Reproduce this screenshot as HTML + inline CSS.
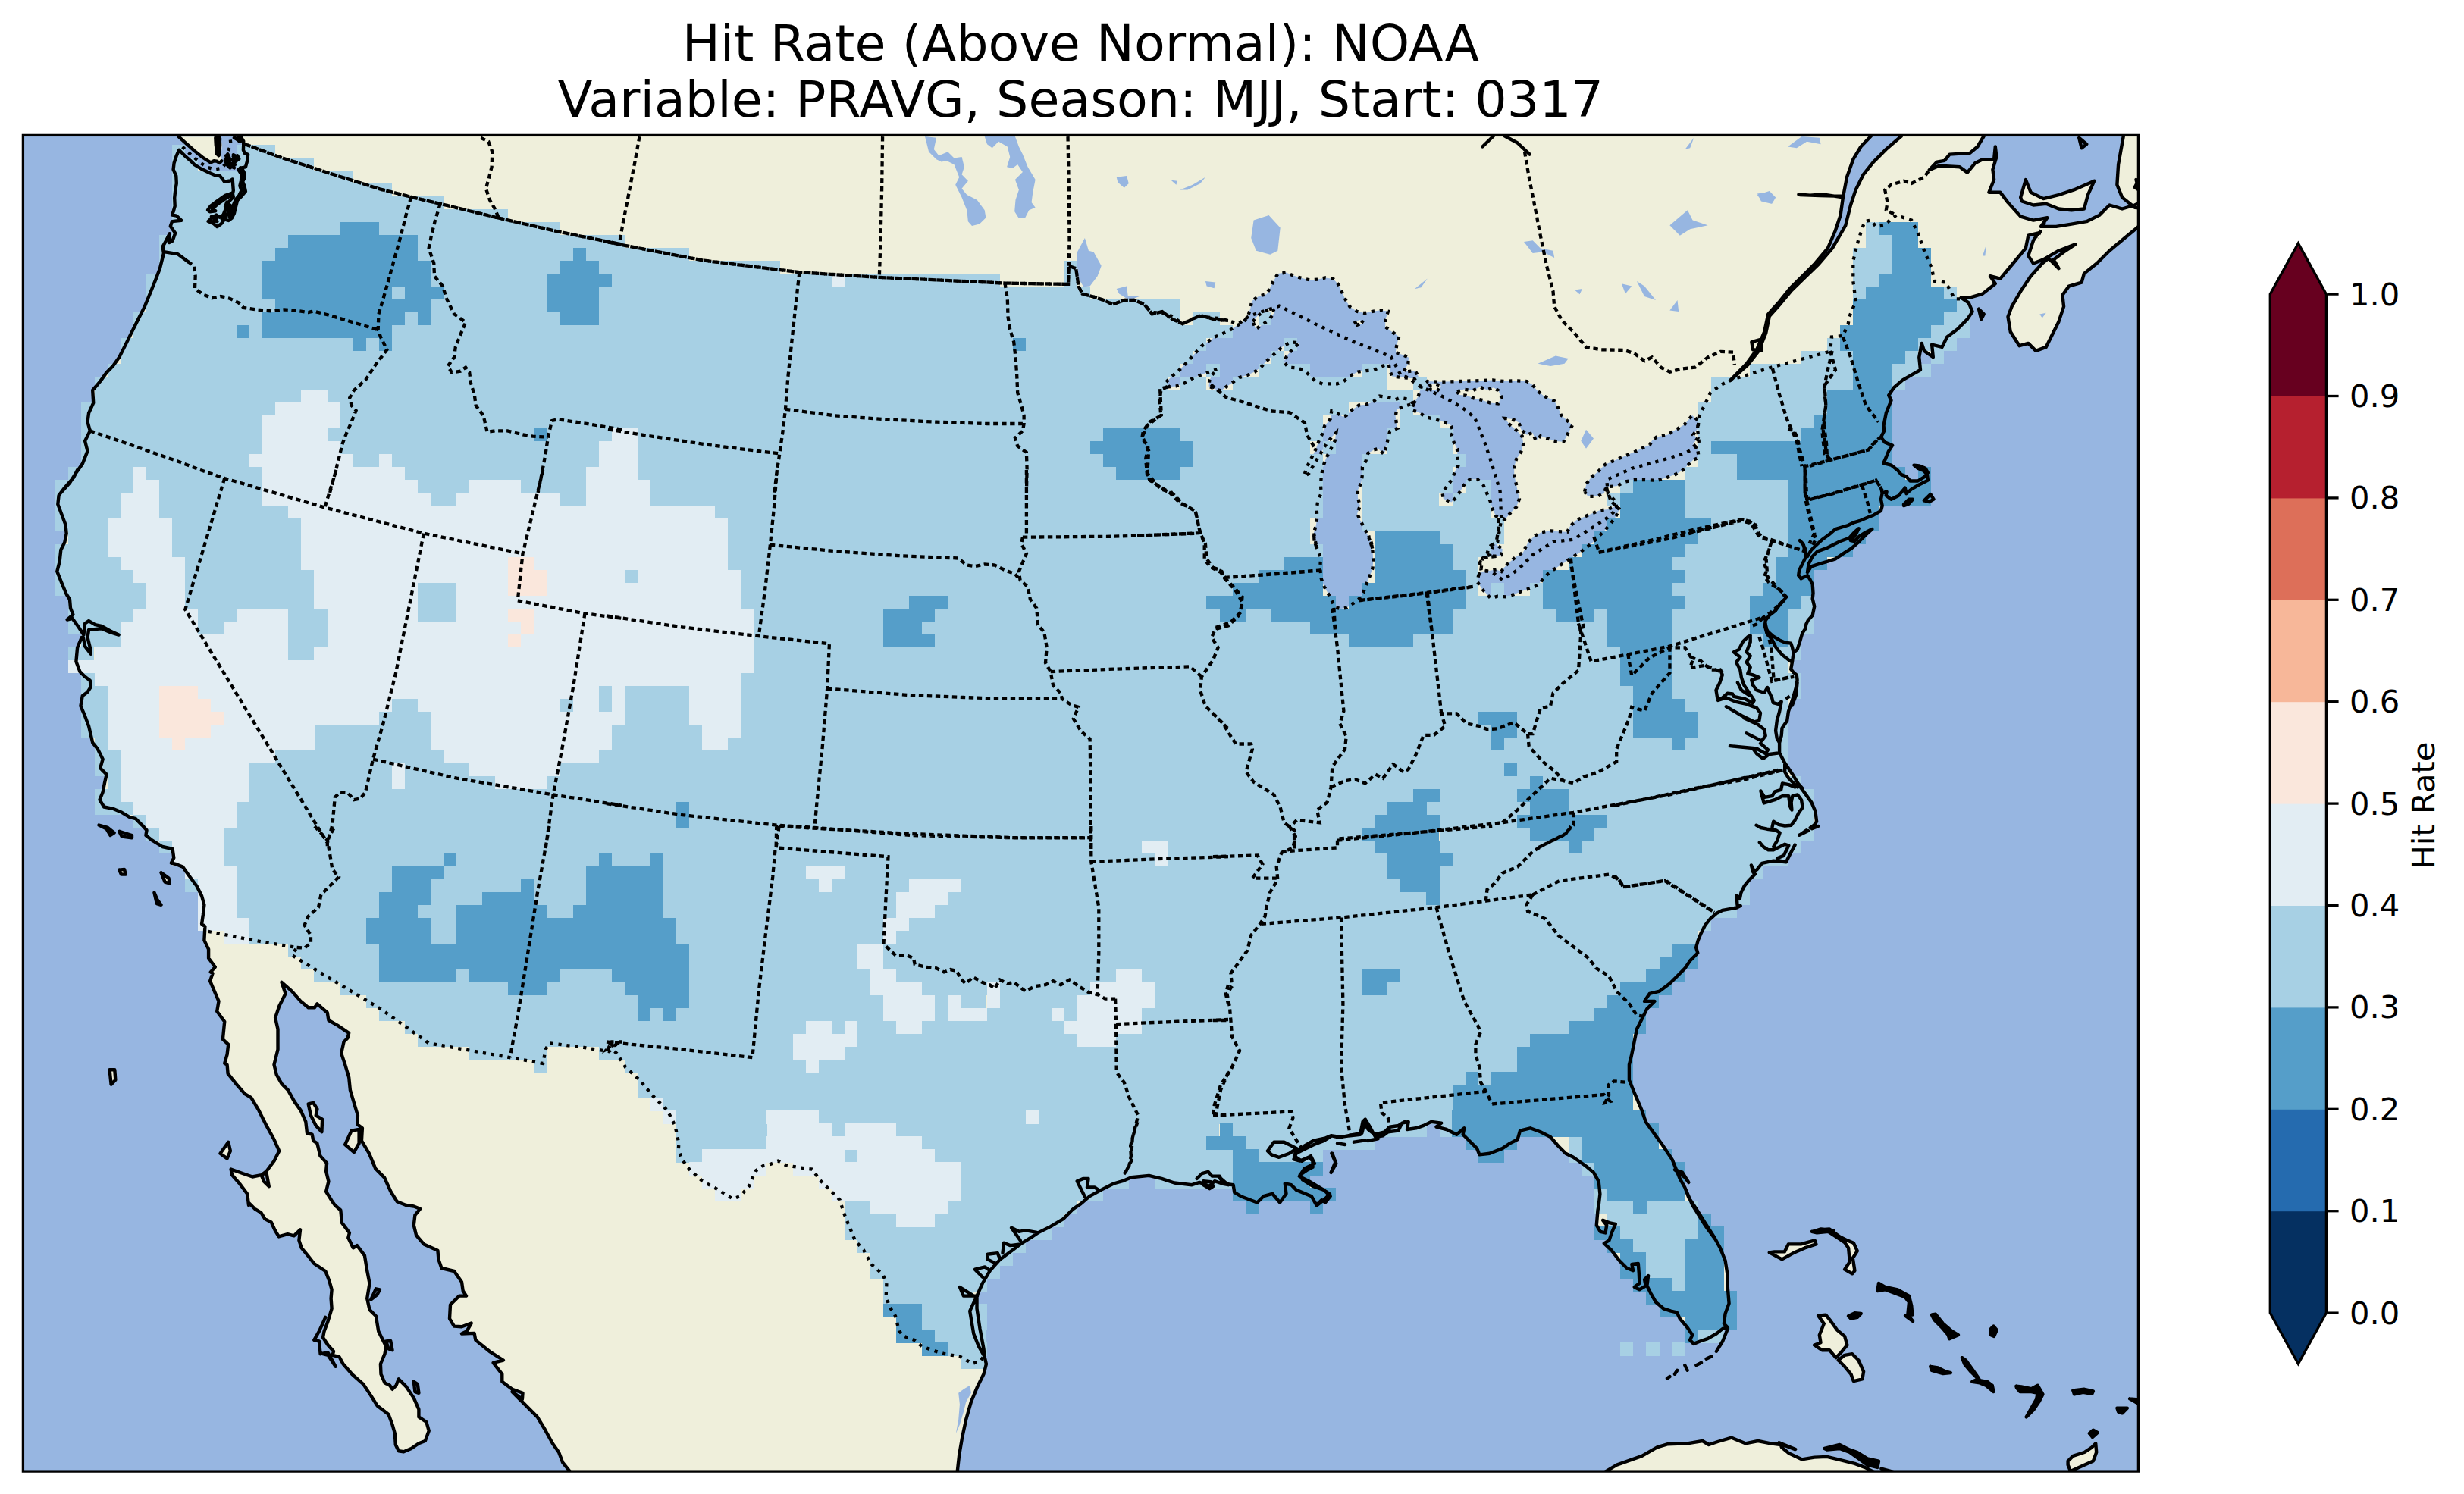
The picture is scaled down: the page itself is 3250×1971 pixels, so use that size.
<!DOCTYPE html><html><head><meta charset="utf-8"><title>Hit Rate (Above Normal): NOAA</title><style>html,body{margin:0;padding:0;background:#fff}svg{display:block}</style></head><body><svg xmlns="http://www.w3.org/2000/svg" width="3250" height="1971" viewBox="0 0 3250 1971">
<defs><clipPath id="fr"><rect x="30.4" y="178.4" width="2790.0" height="1762.6999999999998"/></clipPath></defs>
<rect width="3250" height="1971" fill="#fff"/>
<g clip-path="url(#fr)">
<rect x="30.4" y="178.4" width="2790.0" height="1762.6999999999998" fill="#97b6e1"/>
<path fill="#efefdb" d="M235.5 180.2 L245.7 189.3 L256.4 198.9 L267.1 207.5 L277.8 214.4 L282.1 212.3 L285.9 212.6 L289.6 215.0 L292.3 212.3 L291.8 202.1 L292.8 191.4 L290.7 180.2ZM2384.0 755.0 L2389.0 747.4 L2399.0 744.1 L2410.7 740.7 L2420.8 737.4 L2430.8 730.7 L2442.5 723.2 L2452.6 714.0 L2460.9 705.6 L2469.3 698.1 L2460.9 702.2 L2452.6 707.3 L2445.9 714.0 L2440.9 713.1 L2447.6 705.6 L2451.7 697.2 L2445.9 702.2 L2439.2 709.8 L2427.5 714.0 L2417.4 719.0 L2409.1 723.2 L2397.3 727.3 L2390.7 734.0 L2385.6 744.1ZM2511.1 665.4 L2517.8 658.7 L2522.9 658.7 L2517.8 664.6 L2511.1 667.1ZM2537.9 660.4 L2546.3 652.0 L2550.5 658.7 L2544.6 662.1ZM406.7 1456.5 L413.3 1454.8 L418.4 1463.2 L416.7 1471.6 L425.1 1476.6 L424.4 1493.3 L416.7 1484.9 L410.0 1471.6ZM455.2 1510.0 L463.6 1491.6 L473.6 1490.0 L473.6 1508.4 L466.9 1520.1ZM290.5 1521.8 L301.2 1506.7 L303.9 1518.4 L299.6 1528.4ZM144.6 1411.3 L151.3 1411.3 L152.3 1424.7 L146.6 1430.7ZM157.3 1147.6 L164.0 1146.9 L165.7 1153.6 L160.0 1153.6ZM212.5 1151.2 L222.6 1158.6 L223.6 1165.3 L217.6 1163.6ZM203.5 1177.7 L207.5 1187.1 L212.5 1193.8 L206.8 1192.1ZM344.7 1550.2 L351.4 1546.9 L354.8 1565.3 L348.1 1558.6ZM2333.8 1652.4 L2350.4 1661.4 L2365.4 1653.1 L2380.4 1646.4 L2395.4 1641.4 L2393.7 1636.4 L2375.4 1641.4 L2358.8 1641.4 L2353.8 1651.4 L2340.5 1651.4ZM2433.1 1636.4 L2444.8 1639.7 L2449.8 1650.4 L2443.8 1659.7 L2446.4 1676.3 L2443.1 1680.3 L2433.1 1674.7 L2439.8 1664.7 L2438.1 1646.4ZM2398.2 1735.6 L2408.2 1734.6 L2414.8 1742.9 L2423.1 1754.6 L2433.1 1762.9 L2436.4 1774.5 L2428.1 1784.5 L2421.5 1791.2 L2413.1 1781.2 L2403.2 1781.2 L2393.2 1774.5 L2401.5 1771.2 L2399.8 1761.2 L2405.8 1746.2ZM2424.8 1794.5 L2433.1 1787.8 L2443.1 1786.2 L2451.4 1794.5 L2458.1 1809.5 L2456.4 1819.4 L2444.8 1822.1 L2441.4 1812.8 L2433.1 1802.8ZM2727.6 1927.6 L2734.3 1920.9 L2749.3 1916.0 L2759.3 1909.3 L2764.2 1904.3 L2765.2 1916.0 L2760.9 1927.6 L2745.9 1934.3 L2731.0 1940.9 L2727.6 1932.6ZM2115.8 1942.6 L2132.5 1932.6 L2165.7 1920.9 L2185.7 1909.3 L2199.0 1905.3 L2225.6 1904.3 L2245.6 1901.0 L2253.9 1906.0 L2265.6 1902.0 L2283.9 1896.7 L2302.2 1904.3 L2318.8 1901.0 L2335.5 1904.3 L2348.8 1906.0 L2349.9 1909.3 L2359.9 1917.6 L2376.5 1925.3 L2393.2 1922.6 L2409.8 1921.9 L2426.5 1925.9 L2446.4 1930.9 L2459.7 1935.9 L2473.1 1942.6ZM317.5 180.2 L321.2 186.1 L321.2 191.4 L320.9 197.8 L322.8 202.1 L327.1 203.7 L326.0 212.8 L323.9 220.3 L316.4 222.5 L307.8 230.0 L306.7 236.4 L303.5 238.5 L296.0 239.6 L292.8 235.3 L290.1 232.1 L284.3 231.6 L275.7 227.8 L265.0 222.5 L256.4 217.1 L251.1 211.8 L243.6 205.3 L236.1 197.8 L236.1 197.8 L232.8 205.3 L229.6 215.0 L228.6 223.6 L232.3 232.1 L232.8 241.8 L231.2 251.4 L230.2 261.0 L230.7 271.8 L228.6 279.3 L227.0 283.5 L232.8 284.6 L239.3 290.8 L227.0 292.1 L224.8 298.5 L231.2 307.6 L227.5 317.8 L223.2 320.0 L223.7 308.2 L218.9 317.8 L214.6 325.3 L215.9 334.1 L210.9 354.2 L205.8 367.6 L199.1 384.3 L190.8 404.4 L182.4 421.1 L174.0 437.8 L165.7 454.6 L157.3 471.3 L148.9 483.0 L140.6 491.4 L132.2 503.1 L122.2 514.8 L123.2 531.6 L117.1 544.9 L115.5 556.7 L118.8 568.4 L112.1 581.8 L115.5 595.1 L108.8 611.9 L100.4 623.6 L92.0 637.0 L80.3 650.0 L102.1 620.0 L97.1 630.0 L85.3 643.4 L77.6 653.5 L76.3 665.2 L82.0 680.2 L86.4 692.0 L87.7 703.7 L85.3 715.4 L80.3 725.4 L78.7 740.5 L75.3 753.9 L82.0 770.6 L87.7 784.0 L92.0 790.7 L93.0 802.4 L96.4 810.8 L88.7 817.5 L95.4 815.8 L103.8 827.5 L110.4 837.6 L107.8 840.9 L102.1 854.3 L100.4 872.7 L105.4 886.1 L112.1 892.8 L118.8 897.8 L119.8 906.2 L115.5 912.9 L108.8 917.9 L106.4 931.3 L112.1 944.7 L117.1 958.0 L122.2 979.8 L128.9 988.2 L135.6 1001.6 L132.2 1013.3 L140.6 1021.6 L137.9 1033.3 L135.6 1045.1 L131.5 1055.1 L137.2 1064.5 L148.9 1066.8 L160.7 1071.8 L170.7 1077.9 L179.1 1080.2 L187.4 1088.6 L193.5 1095.3 L192.4 1102.0 L200.8 1108.7 L214.2 1117.0 L227.6 1120.0 L229.3 1131.8 L225.9 1138.5 L232.6 1140.2 L241.0 1143.6 L249.3 1155.3 L259.4 1168.7 L266.1 1182.0 L269.4 1193.8 L267.8 1207.1 L266.1 1218.9 L270.4 1222.2 L269.4 1240.6 L275.1 1252.3 L275.1 1264.0 L283.8 1275.8 L277.8 1282.4 L280.5 1284.1 L277.1 1294.2 L282.8 1307.6 L288.5 1320.9 L286.2 1334.3 L296.2 1347.7 L293.9 1371.1 L301.2 1377.8 L299.6 1391.2 L296.2 1402.9 L299.6 1404.6 L300.6 1416.3 L311.3 1429.7 L323.0 1443.1 L331.3 1448.1 L341.4 1464.9 L351.4 1484.9 L361.5 1503.3 L368.2 1518.4 L361.5 1531.8 L351.4 1545.2 L344.7 1550.2 L333.0 1552.5 L321.3 1548.5 L304.6 1542.5 L306.2 1550.2 L316.3 1561.9 L326.3 1575.3 L328.0 1590.0 L327.8 1586.5 L336.1 1594.8 L344.4 1599.8 L349.4 1608.1 L357.8 1612.5 L362.7 1623.1 L367.7 1631.4 L379.4 1628.1 L387.7 1630.4 L396.0 1622.4 L394.4 1636.4 L397.7 1646.4 L406.0 1656.4 L414.3 1667.0 L429.3 1677.0 L434.3 1689.7 L437.6 1701.3 L436.6 1713.0 L437.6 1726.3 L432.6 1742.9 L427.6 1756.2 L426.0 1764.5 L432.6 1774.5 L440.0 1782.8 L438.6 1787.8 L447.6 1790.2 L452.6 1799.5 L464.2 1812.8 L479.2 1826.1 L489.2 1841.1 L497.5 1854.4 L512.5 1866.0 L517.5 1879.4 L520.8 1891.0 L521.8 1906.0 L525.8 1914.3 L532.5 1915.3 L542.5 1911.0 L552.4 1904.3 L560.8 1901.0 L565.7 1887.7 L562.4 1876.0 L552.4 1869.4 L552.4 1859.4 L545.8 1844.4 L535.8 1829.4 L525.8 1819.4 L522.5 1827.8 L517.5 1832.8 L514.2 1827.8 L507.5 1824.4 L502.5 1812.8 L501.9 1799.5 L507.5 1786.2 L509.2 1776.2 L499.2 1756.2 L495.9 1736.2 L487.5 1727.9 L484.2 1713.0 L487.5 1693.0 L484.2 1676.3 L480.9 1656.4 L470.9 1643.1 L465.9 1646.4 L459.3 1633.1 L460.9 1626.4 L450.9 1613.1 L449.3 1596.5 L441.8 1590.0 L438.4 1585.3 L430.1 1572.0 L433.4 1558.6 L430.1 1545.2 L431.1 1534.5 L422.4 1525.1 L418.4 1508.4 L413.3 1505.0 L411.7 1496.7 L405.0 1495.0 L403.3 1479.9 L396.6 1464.9 L388.2 1453.1 L379.9 1438.1 L371.5 1429.7 L364.8 1418.0 L361.5 1404.6 L366.5 1384.5 L366.5 1357.8 L363.1 1342.7 L368.2 1327.6 L376.5 1310.9 L371.5 1295.8 L371.5 1295.8 L384.9 1307.6 L396.6 1320.9 L406.7 1329.3 L415.0 1329.3 L418.4 1324.3 L431.8 1336.0 L433.4 1346.0 L445.1 1352.7 L460.2 1362.8 L458.5 1369.5 L453.5 1374.5 L450.2 1389.6 L455.2 1404.6 L460.2 1421.3 L461.9 1438.1 L466.9 1454.8 L471.9 1471.6 L471.2 1483.3 L477.9 1488.3 L476.9 1505.0 L487.0 1521.8 L495.3 1541.8 L507.1 1553.6 L515.4 1572.0 L523.8 1585.3 L535.5 1590.0 L545.8 1591.5 L554.1 1594.8 L547.4 1603.1 L545.8 1616.4 L549.1 1629.8 L559.1 1641.4 L577.4 1649.7 L578.4 1661.4 L582.4 1673.0 L599.0 1677.0 L609.0 1691.3 L610.7 1703.0 L615.0 1709.6 L605.7 1709.6 L594.0 1721.3 L593.0 1739.6 L599.0 1749.6 L609.0 1750.2 L621.7 1745.6 L615.7 1756.2 L609.0 1759.5 L625.6 1758.9 L627.3 1767.9 L645.6 1782.8 L663.9 1794.5 L650.6 1797.8 L662.3 1812.8 L662.3 1822.8 L675.6 1832.8 L689.5 1837.8 L688.9 1846.1 L675.6 1836.1 L708.8 1869.4 L718.8 1886.0 L728.8 1904.3 L737.1 1916.0 L742.1 1929.3 L752.8 1942.6 L1262.6 1942.6 L1265.2 1919.3 L1269.2 1896.0 L1274.2 1872.7 L1280.9 1849.4 L1289.2 1829.4 L1297.5 1812.8 L1300.9 1799.5 L1298.5 1789.5 L1297.5 1779.5 L1292.5 1752.9 L1288.5 1726.3 L1288.5 1709.6 L1295.9 1693.0 L1305.8 1676.3 L1319.2 1661.4 L1332.5 1651.4 L1345.8 1641.4 L1359.1 1633.1 L1369.1 1626.4 L1385.7 1618.1 L1402.4 1608.1 L1415.7 1594.8 L1425.6 1588.2 L1437.3 1578.2 L1452.3 1569.9 L1468.9 1561.5 L1480.6 1558.2 L1492.2 1553.2 L1515.5 1550.9 L1532.1 1554.9 L1548.8 1560.5 L1572.1 1563.2 L1582.1 1559.9 L1595.4 1564.9 L1602.0 1558.2 L1612.0 1561.5 L1620.0 1563.2 L1606.7 1551.6 L1615.0 1561.5 L1626.6 1563.2 L1628.3 1573.2 L1636.6 1578.2 L1658.2 1586.5 L1666.6 1578.2 L1678.2 1574.8 L1688.2 1586.5 L1696.5 1574.8 L1694.8 1561.5 L1703.2 1563.2 L1709.8 1569.9 L1729.8 1578.2 L1736.4 1589.8 L1743.1 1583.2 L1748.1 1586.5 L1754.7 1578.2 L1746.4 1569.9 L1731.5 1564.9 L1718.1 1556.5 L1714.8 1549.9 L1724.8 1543.2 L1731.5 1539.9 L1731.5 1531.6 L1726.5 1526.6 L1714.8 1531.6 L1706.5 1529.3 L1709.8 1521.6 L1717.1 1515.1 L1720.5 1511.7 L1732.2 1505.0 L1747.3 1501.7 L1755.6 1498.3 L1767.3 1500.0 L1780.7 1498.3 L1794.1 1496.7 L1797.5 1479.9 L1800.8 1476.6 L1805.8 1484.9 L1814.2 1500.0 L1824.2 1498.3 L1830.9 1493.3 L1844.3 1491.6 L1849.3 1481.6 L1857.7 1479.9 L1856.0 1490.0 L1867.8 1488.3 L1877.8 1484.9 L1887.8 1479.9 L1901.2 1481.6 L1894.5 1486.6 L1907.9 1490.0 L1921.3 1496.7 L1931.3 1488.3 L1929.7 1496.7 L1938.0 1505.0 L1948.1 1515.1 L1951.4 1523.4 L1964.8 1521.8 L1981.6 1515.1 L1991.6 1508.4 L2001.6 1503.3 L2005.0 1491.6 L2018.4 1488.3 L2031.8 1493.3 L2045.1 1500.0 L2055.2 1511.7 L2065.2 1521.8 L2075.3 1526.8 L2092.0 1538.5 L2102.0 1546.9 L2108.7 1558.6 L2110.4 1575.3 L2108.7 1590.0 L2107.5 1596.5 L2105.8 1616.4 L2110.8 1624.8 L2117.5 1626.4 L2119.2 1616.4 L2114.2 1609.8 L2122.5 1613.1 L2130.8 1614.8 L2125.8 1626.4 L2122.5 1636.4 L2115.8 1640.4 L2125.8 1649.7 L2135.8 1663.0 L2145.8 1673.0 L2154.1 1676.3 L2152.4 1668.0 L2160.8 1667.0 L2161.8 1679.7 L2162.4 1693.0 L2155.8 1698.0 L2162.4 1701.3 L2170.7 1696.3 L2169.1 1688.0 L2174.1 1683.0 L2172.4 1696.3 L2177.4 1706.3 L2184.1 1717.9 L2194.0 1726.3 L2204.0 1729.6 L2211.7 1731.3 L2215.7 1739.6 L2225.6 1751.2 L2232.3 1761.2 L2229.0 1767.9 L2234.0 1772.9 L2242.3 1769.5 L2252.3 1766.2 L2263.9 1759.5 L2272.2 1752.9 L2278.9 1751.2 L2273.9 1746.2 L2275.6 1732.9 L2280.6 1719.6 L2278.9 1699.6 L2278.2 1679.7 L2275.6 1663.0 L2268.9 1646.4 L2260.6 1631.4 L2248.9 1613.1 L2237.3 1594.8 L2227.3 1579.8 L2222.3 1566.5 L2215.7 1554.9 L2205.7 1529.9 L2192.4 1510.0 L2179.1 1491.6 L2170.7 1480.0 L2165.6 1464.9 L2155.6 1441.4 L2148.9 1424.7 L2148.9 1404.6 L2152.2 1391.2 L2155.6 1374.5 L2158.9 1357.8 L2165.6 1344.4 L2172.3 1331.0 L2182.4 1320.9 L2169.0 1320.9 L2175.7 1310.9 L2189.1 1307.6 L2202.4 1297.5 L2212.5 1287.5 L2222.5 1277.4 L2229.2 1267.4 L2239.3 1257.3 L2237.1 1250.0 L2239.6 1241.0 L2243.8 1230.9 L2248.8 1220.9 L2255.5 1212.5 L2263.9 1205.0 L2272.2 1200.8 L2290.7 1197.5 L2295.7 1195.0 L2291.5 1194.1 L2290.7 1181.6 L2294.8 1185.8 L2296.5 1177.4 L2300.7 1169.0 L2307.4 1160.7 L2314.9 1153.1 L2312.4 1150.6 L2309.9 1141.4 L2314.1 1149.8 L2317.4 1147.3 L2324.1 1138.9 L2339.2 1135.6 L2355.9 1137.2 L2374.3 1101.2 L2382.7 1095.4 L2387.7 1092.0 L2392.7 1088.7 L2396.1 1083.7 L2394.4 1070.3 L2389.4 1058.6 L2381.0 1046.9 L2371.0 1033.5 L2377.3 1040.0 L2372.2 1034.3 L2363.9 1020.9 L2353.8 1005.9 L2347.1 993.3 L2347.1 979.9 L2349.7 970.7 L2350.5 960.7 L2353.8 955.7 L2357.2 950.7 L2358.9 938.9 L2362.2 928.9 L2365.6 918.9 L2368.9 907.1 L2370.6 897.1 L2369.7 890.4 L2365.6 887.1 L2362.2 882.9 L2363.9 873.7 L2365.6 861.1 L2370.6 856.9 L2373.9 846.9 L2377.3 835.2 L2381.4 829.3 L2382.3 823.5 L2384.8 818.4 L2390.7 811.8 L2393.2 800.0 L2390.7 790.0 L2391.5 782.6 L2390.7 770.9 L2387.3 764.2 L2384.0 759.1 L2375.6 763.3 L2372.2 759.1 L2373.1 752.4 L2377.3 744.1 L2382.3 734.0 L2381.4 724.8 L2377.3 716.5 L2373.9 713.1 L2378.9 719.0 L2380.6 727.3 L2384.0 734.0 L2389.0 725.7 L2394.8 719.8 L2404.0 711.4 L2414.1 703.9 L2420.8 698.1 L2437.5 693.0 L2444.2 689.7 L2452.6 687.2 L2464.3 682.2 L2471.0 679.7 L2481.0 673.8 L2482.7 667.1 L2481.0 658.7 L2482.7 650.4 L2488.6 648.7 L2487.7 653.7 L2494.4 658.7 L2504.4 653.7 L2512.8 643.7 L2514.5 651.2 L2521.2 645.3 L2531.2 639.5 L2542.9 633.6 L2542.1 626.9 L2537.9 621.1 L2529.6 617.7 L2524.5 613.6 L2531.2 614.4 L2539.6 617.7 L2542.9 623.6 L2537.9 629.4 L2529.6 634.5 L2519.5 634.5 L2514.5 628.6 L2507.8 626.1 L2502.8 620.2 L2494.4 613.6 L2484.4 611.0 L2487.7 603.5 L2491.1 595.1 L2496.1 587.6 L2486.0 583.4 L2481.0 576.7 L2485.2 568.4 L2484.4 560.0 L2484.5 561.7 L2487.8 544.9 L2494.5 528.2 L2491.2 521.5 L2497.9 511.5 L2509.6 501.4 L2521.3 494.7 L2533.0 488.0 L2531.3 471.3 L2534.7 452.9 L2538.0 462.9 L2549.8 471.3 L2548.1 454.6 L2561.5 457.9 L2568.2 444.5 L2581.6 434.5 L2594.9 421.1 L2601.6 411.1 L2596.6 399.3 L2586.6 392.7 L2598.3 392.7 L2615.0 387.6 L2631.8 374.2 L2625.1 364.2 L2638.4 367.6 L2655.2 347.5 L2671.9 327.4 L2675.3 310.7 L2688.7 307.3 L2682.0 317.3 L2675.3 337.4 L2682.0 347.5 L2695.3 342.4 L2715.4 330.7 L2737.2 322.4 L2722.1 332.4 L2708.7 342.4 L2715.4 354.2 L2702.0 340.8 L2693.7 347.5 L2678.6 364.2 L2665.2 384.3 L2653.5 404.4 L2648.5 417.8 L2651.8 437.8 L2663.6 456.2 L2675.3 452.9 L2685.3 462.9 L2698.7 457.9 L2705.4 444.5 L2715.4 424.4 L2722.1 404.4 L2720.4 389.3 L2728.8 377.6 L2745.6 372.6 L2748.9 360.9 L2765.6 347.5 L2782.4 330.7 L2802.4 314.0 L2822.5 297.3 L2825.4 173.4Z"/>
<path fill="#97b6e1" d="M1220.0 180.1 L1235.1 181.8 L1231.8 196.9 L1238.4 205.2 L1250.2 200.2 L1258.5 208.6 L1268.6 206.9 L1271.9 220.3 L1268.6 230.3 L1276.9 238.7 L1268.6 248.7 L1275.3 257.1 L1288.7 263.8 L1298.7 277.2 L1300.4 287.2 L1292.0 295.6 L1282.0 297.9 L1276.9 292.2 L1275.3 277.2 L1268.6 260.4 L1260.2 243.7 L1265.2 233.7 L1258.5 216.9 L1248.5 211.9 L1241.8 213.6 L1235.1 210.2 L1225.1 200.2 L1221.7 186.8ZM1298.7 180.1 L1338.9 180.1 L1343.9 193.5 L1348.9 203.6 L1355.6 220.3 L1365.6 237.0 L1362.3 253.8 L1360.6 267.1 L1365.6 273.8 L1357.3 277.2 L1352.2 287.2 L1343.9 287.9 L1338.2 278.9 L1339.5 263.8 L1343.9 250.4 L1338.9 237.0 L1348.9 227.0 L1342.2 216.9 L1335.5 222.0 L1328.1 220.3 L1332.2 206.9 L1328.8 193.5 L1317.1 186.8 L1308.7 195.2 L1302.0 190.2ZM1420.9 332.4 L1430.9 314.0 L1435.9 330.7 L1442.6 332.4 L1452.7 350.8 L1447.6 364.2 L1437.6 377.6 L1429.2 378.3 L1422.5 367.6 L1420.9 350.8ZM1472.7 233.7 L1486.1 232.0 L1488.8 242.0 L1482.8 247.7 L1474.4 240.4ZM1556.4 250.4 L1573.1 243.7 L1589.9 233.7 L1583.2 242.0 L1566.4 250.4ZM1544.7 237.7 L1553.1 238.7 L1551.4 243.7ZM1589.9 370.9 L1603.3 372.6 L1601.6 380.3 L1591.6 377.6ZM1472.7 380.9 L1486.1 377.6 L1487.8 391.0 L1502.9 391.0 L1489.5 396.0 L1476.1 387.6ZM1538.1 504.1 L1545.6 496.6 L1554.6 489.1 L1562.2 481.6 L1569.7 473.3 L1577.2 465.0 L1584.8 456.7 L1593.0 450.7 L1602.1 444.7 L1612.6 440.1 L1622.4 435.6 L1631.4 429.6 L1639.0 425.8 L1645.7 418.3 L1649.5 406.3 L1651.0 397.2 L1660.8 390.4 L1670.6 388.2 L1675.1 379.9 L1679.6 370.9 L1685.6 361.1 L1696.2 359.6 L1707.5 364.1 L1717.3 367.1 L1727.8 369.4 L1738.4 368.6 L1748.1 366.4 L1758.7 367.9 L1765.5 375.4 L1770.0 385.2 L1774.5 395.0 L1780.5 404.8 L1789.6 410.8 L1800.1 413.0 L1810.6 410.8 L1821.2 409.3 L1831.0 410.8 L1827.2 422.1 L1827.2 431.1 L1836.2 437.9 L1845.3 443.9 L1842.3 455.2 L1840.8 465.0 L1849.8 468.0 L1858.1 471.8 L1857.3 480.0 L1851.3 490.6 L1866.4 489.1 L1870.9 496.6 L1866.4 499.6 L1836.2 496.6 L1833.2 489.1 L1831.7 480.0 L1822.7 483.1 L1812.1 488.3 L1801.6 489.1 L1791.1 490.6 L1780.5 495.9 L1773.0 502.6 L1764.0 506.4 L1753.4 506.4 L1744.4 506.4 L1735.3 503.4 L1727.8 495.9 L1720.3 488.3 L1709.7 485.3 L1699.2 484.6 L1693.2 477.0 L1698.4 468.0 L1706.7 459.0 L1714.3 452.2 L1703.0 451.4 L1693.2 456.0 L1684.9 463.5 L1678.1 469.5 L1670.6 476.3 L1663.1 484.6 L1654.8 490.6 L1645.0 495.1 L1634.4 498.1 L1625.4 504.9 L1616.4 510.9 L1610.4 515.4 L1602.1 513.2 L1594.5 509.4 L1595.3 501.9 L1598.3 495.1 L1605.8 486.8 L1590.8 492.1 L1581.0 495.9 L1572.0 499.6 L1562.2 505.6 L1551.6 509.4 L1541.8 510.2ZM1864.7 532.4 L1855.6 526.4 L1846.6 524.8 L1840.6 527.1 L1830.0 524.1 L1819.5 522.6 L1812.0 529.4 L1801.4 533.9 L1792.4 534.6 L1783.4 540.7 L1775.8 548.2 L1771.3 549.7 L1763.8 545.2 L1756.3 542.2 L1754.8 552.7 L1747.2 561.7 L1744.2 572.3 L1739.7 581.3 L1735.2 593.4 L1729.2 605.4 L1723.1 617.5 L1720.1 628.0 L1726.1 625.0 L1733.7 611.4 L1741.2 599.4 L1750.2 584.3 L1757.8 575.3 L1762.3 570.8 L1760.8 581.3 L1754.8 593.4 L1748.7 605.4 L1745.0 616.0 L1742.7 629.5 L1742.0 640.0 L1742.7 650.6 L1738.2 661.1 L1736.7 671.7 L1737.4 682.2 L1735.9 692.8 L1732.9 703.3 L1733.7 713.8 L1736.7 722.9 L1732.9 703.0 L1733.7 715.1 L1738.2 725.6 L1742.0 736.1 L1741.2 749.7 L1742.7 763.2 L1746.5 773.8 L1751.7 782.8 L1756.3 791.9 L1760.8 800.9 L1768.3 803.2 L1776.6 801.6 L1786.4 794.9 L1793.9 788.8 L1798.4 781.3 L1802.2 770.8 L1806.7 760.2 L1810.5 749.7 L1811.2 739.2 L1810.5 727.1 L1809.0 716.6 L1805.2 706.8 L1810.5 725.0 L1809.0 717.6 L1804.4 707.1 L1799.9 697.3 L1794.7 687.5 L1790.1 677.7 L1793.9 667.2 L1790.9 656.6 L1790.9 646.8 L1795.4 637.0 L1796.9 626.5 L1796.9 616.0 L1801.4 608.4 L1804.4 597.9 L1812.0 593.4 L1818.0 591.9 L1825.5 599.4 L1828.5 588.8 L1833.1 569.3 L1843.6 564.8 L1842.1 560.2 L1840.6 549.7 L1842.1 540.7 L1851.1 536.1ZM1864.7 532.4 L1870.7 522.6 L1875.2 509.0 L1882.8 503.0 L1900.8 503.8 L1924.9 503.0 L1946.0 502.3 L1968.6 501.5 L1983.7 503.0 L1998.7 502.3 L2013.8 503.0 L2021.3 507.5 L2027.3 515.1 L2036.4 522.6 L2049.9 528.6 L2055.9 539.2 L2059.0 547.6 L2074.0 561.0 L2062.3 582.7 L2051.4 582.1 L2040.9 578.3 L2031.8 575.3 L2025.8 581.3 L2021.3 570.8 L2013.8 573.8 L2006.2 566.3 L2003.2 557.2 L1994.2 552.7 L1985.2 552.0 L1991.2 560.2 L2000.2 567.8 L2007.7 575.3 L2009.3 585.8 L2006.2 596.4 L2000.2 605.4 L1997.2 616.0 L1997.2 626.5 L1999.5 637.0 L2001.7 647.6 L2004.0 658.1 L2000.2 668.7 L1992.7 676.2 L1985.2 685.2 L1979.1 683.0 L1973.1 680.7 L1968.6 671.7 L1965.6 661.1 L1961.1 650.6 L1956.5 640.0 L1949.0 632.5 L1938.5 632.5 L1930.9 640.0 L1926.4 647.6 L1920.4 656.6 L1914.4 662.6 L1903.8 658.1 L1902.3 649.1 L1909.9 640.0 L1915.9 631.0 L1918.9 622.0 L1923.4 614.4 L1922.7 603.9 L1921.9 591.9 L1917.4 582.8 L1914.4 573.8 L1917.4 569.3 L1912.9 560.2 L1903.8 556.5 L1891.8 552.7 L1881.2 550.4 L1872.2 544.4 L1861.7 540.7ZM1966.9 718.8 L1972.0 717.1 L1982.0 724.7 L1980.3 732.2 L1973.6 733.9 L1966.9 733.0 L1961.9 728.9 L1963.6 723.8ZM1950.2 759.0 L1953.6 754.0 L1963.6 753.1 L1973.6 751.4 L1980.3 754.0 L1983.7 748.9 L1990.4 742.2 L2000.4 733.9 L2008.8 728.9 L2015.5 715.5 L2023.8 707.1 L2033.9 702.1 L2045.6 700.4 L2055.6 701.2 L2067.3 701.7 L2070.7 694.6 L2079.1 686.2 L2089.1 682.0 L2099.1 677.8 L2109.2 673.6 L2120.9 672.0 L2130.9 667.8 L2136.0 672.0 L2130.9 682.0 L2124.2 691.2 L2117.6 698.7 L2109.2 707.1 L2100.8 715.5 L2090.8 723.8 L2082.4 729.7 L2070.7 737.2 L2060.7 743.9 L2050.6 750.6 L2042.2 756.5 L2033.9 765.7 L2027.2 772.4 L2017.1 776.6 L2007.1 779.9 L1997.1 784.1 L1987.0 787.4 L1975.3 786.6 L1966.1 789.1 L1955.2 777.4 L1948.5 767.3ZM2090.1 648.8 L2092.4 638.3 L2099.2 629.3 L2108.2 621.7 L2117.2 612.7 L2127.8 608.2 L2138.3 603.7 L2148.8 599.2 L2159.4 594.6 L2168.4 590.1 L2176.0 587.1 L2179.0 581.1 L2185.0 576.6 L2192.5 575.1 L2200.0 573.6 L2206.1 569.0 L2212.1 566.0 L2218.1 562.3 L2221.9 560.0 L2232.0 548.0 L2240.0 555.0 L2239.0 566.0 L2233.2 573.6 L2239.2 578.1 L2233.2 585.6 L2239.2 593.1 L2240.7 603.7 L2233.2 606.7 L2225.6 614.2 L2219.6 620.2 L2210.6 625.5 L2198.5 630.0 L2186.5 633.8 L2168.4 633.0 L2156.4 633.0 L2144.3 635.3 L2132.3 641.3 L2118.7 642.1 L2115.7 650.4 L2106.7 654.9 L2094.6 654.9ZM1653.6 290.6 L1673.6 283.9 L1688.7 300.6 L1685.3 330.7 L1675.3 335.8 L1656.9 330.7 L1650.2 314.0ZM2028.4 479.7 L2051.8 469.6 L2068.6 473.0 L2063.6 479.7 L2045.1 483.0ZM2010.0 319.0 L2021.7 317.3 L2031.8 327.4 L2048.5 330.7 L2050.2 340.1 L2035.1 332.4 L2021.7 334.1ZM2202.4 297.3 L2225.9 277.2 L2232.6 290.6 L2252.7 297.3 L2229.2 302.3 L2215.8 310.7ZM2317.9 255.4 L2333.0 253.1 L2341.3 260.4 L2336.3 268.8 L2322.9 265.5ZM2158.9 370.9 L2169.0 377.6 L2184.0 396.0 L2169.0 391.0ZM2138.9 374.2 L2152.2 377.6 L2143.9 387.6ZM2076.9 382.6 L2087.0 380.9 L2083.6 388.3ZM2202.4 409.4 L2212.5 396.0 L2214.2 411.1ZM1866.1 380.9 L1882.8 367.6 L1874.4 379.3ZM2085.3 581.8 L2092.0 566.7 L2102.0 578.4 L2092.0 591.8ZM2358.1 193.5 L2376.5 180.1 L2399.9 181.8 L2401.6 190.2 L2383.2 186.8 L2369.8 195.2ZM2222.5 196.9 L2234.2 181.8 L2229.2 195.2ZM2282.0 502.1 L2303.8 479.7 L2317.1 461.3 L2327.2 437.8 L2332.2 414.4 L2347.3 397.7 L2360.7 380.9 L2377.4 364.2 L2394.1 347.5 L2410.9 327.4 L2420.9 304.0 L2427.6 283.9 L2430.9 260.4 L2436.0 233.7 L2444.3 210.2 L2454.4 193.5 L2467.8 179.5 L2507.9 179.5 L2487.8 196.9 L2471.1 213.6 L2457.7 230.3 L2447.7 250.4 L2441.0 270.5 L2434.3 297.3 L2416.9 327.4 L2399.1 348.1 L2380.7 365.9 L2363.3 382.9 L2349.3 399.7 L2333.9 417.1 L2329.2 439.5 L2319.8 462.9 L2305.4 481.3 L2282.0 502.1ZM2616.7 179.5 L2608.3 193.5 L2598.3 201.9 L2571.5 203.6 L2564.8 211.9 L2554.8 213.6 L2544.7 224.3 L2558.1 218.6 L2584.9 220.3 L2594.9 227.6 L2605.0 215.3 L2615.0 210.2 L2630.1 210.2 L2631.8 193.5 L2633.4 206.9 L2628.4 223.6 L2630.1 237.0 L2623.4 253.8 L2638.4 253.8 L2648.5 267.1 L2665.2 285.6 L2682.0 290.6 L2700.4 287.2 L2692.0 298.9 L2712.1 298.9 L2732.2 295.6 L2752.2 292.2 L2769.0 283.9 L2782.4 270.5 L2799.1 275.5 L2815.8 270.5 L2822.5 267.1 L2822.5 179.5ZM2317.8 257.1 L2333.9 252.1 L2342.2 260.4 L2337.2 268.8 L2323.8 265.5ZM2615.0 337.4 L2620.0 322.4 L2618.4 337.4ZM2690.3 414.4 L2698.7 412.7 L2693.7 419.4ZM1264.2 1837.8 L1270.9 1832.8 L1279.2 1827.8 L1280.9 1837.8 L1274.2 1849.4 L1270.9 1862.7 L1265.9 1879.4 L1260.9 1891.0 L1264.2 1872.7 L1265.9 1852.7Z"/>
<path fill="#efefdb" d="M1921.9 516.6 L1930.9 513.6 L1943.0 515.1 L1952.0 510.5 L1961.1 514.3 L1970.1 511.3 L1976.1 515.1 L1980.6 524.1 L1976.1 532.4 L1965.6 531.6 L1955.0 527.9 L1944.5 525.6 L1934.0 521.8 L1924.9 521.1ZM1884.3 509.0 L1891.8 506.0 L1900.8 509.0 L1896.3 515.1 L1887.3 514.3ZM1652.5 424.3 L1658.5 416.8 L1667.6 410.8 L1678.1 406.3 L1681.1 412.3 L1673.6 422.1 L1663.1 429.6 L1656.3 434.1ZM1785.8 426.6 L1793.3 422.1 L1799.3 425.8 L1789.6 428.8ZM2800.8 179.5 L2794.1 216.9 L2792.4 243.7 L2799.1 260.4 L2815.8 273.8 L2822.5 274.5 L2822.5 179.5ZM2665.2 260.4 L2671.9 237.0 L2678.6 253.8 L2695.3 262.1 L2715.4 257.1 L2735.5 250.4 L2762.3 238.7 L2753.9 257.1 L2748.9 275.5 L2732.2 277.2 L2715.4 275.5 L2698.7 268.8 L2682.0 270.5 L2666.9 265.5Z"/>
<path shape-rendering="crispEdges" fill="#a7d0e4" d="M226.8 190.8h17.1v17.3h-17.1zM312.1 190.8h51.2v17.3h-51.2zM226.8 207.8h34.1v17.3h-34.1zM312.1 207.8h102.3v17.3h-102.3zM226.8 224.8h238.8v17.3h-238.8zM226.8 241.8h290.0v17.3h-290.0zM226.8 258.8h358.2v17.3h-358.2zM226.8 275.8h443.5v17.3h-443.5zM226.8 292.8h221.8v17.3h-221.8zM499.7 292.8h238.8v17.3h-238.8zM2461.4 292.8h17.1v17.3h-17.1zM209.7 309.8h170.6v17.3h-170.6zM550.9 309.8h272.9v17.3h-272.9zM2461.4 309.8h34.1v17.3h-34.1zM209.7 326.8h153.5v17.3h-153.5zM550.9 326.8h204.7v17.3h-204.7zM772.7 326.8h136.5v17.3h-136.5zM2444.3 326.8h51.2v17.3h-51.2zM209.7 343.8h136.5v17.3h-136.5zM568.0 343.8h170.6v17.3h-170.6zM789.7 343.8h238.8v17.3h-238.8zM1403.8 343.8h17.1v17.3h-17.1zM2444.3 343.8h51.2v17.3h-51.2zM192.7 360.8h153.5v17.3h-153.5zM568.0 360.8h153.5v17.3h-153.5zM806.8 360.8h290.0v17.3h-290.0zM1113.8 360.8h204.7v17.3h-204.7zM1403.8 360.8h17.1v17.3h-17.1zM2444.3 360.8h34.1v17.3h-34.1zM192.7 377.7h153.5v17.3h-153.5zM516.8 377.7h17.1v17.3h-17.1zM585.0 377.7h136.5v17.3h-136.5zM789.7 377.7h648.2v17.3h-648.2zM2444.3 377.7h17.1v17.3h-17.1zM2563.7 377.7h17.1v17.3h-17.1zM192.7 394.7h170.6v17.3h-170.6zM568.0 394.7h153.5v17.3h-153.5zM789.7 394.7h767.6v17.3h-767.6zM2580.8 394.7h17.1v17.3h-17.1zM175.6 411.7h170.6v17.3h-170.6zM533.8 411.7h17.1v17.3h-17.1zM568.0 411.7h170.6v17.3h-170.6zM789.7 411.7h767.6v17.3h-767.6zM1574.4 411.7h34.1v17.3h-34.1zM1659.7 411.7h17.1v17.3h-17.1zM2563.7 411.7h34.1v17.3h-34.1zM175.6 428.7h136.5v17.3h-136.5zM329.1 428.7h17.1v17.3h-17.1zM516.8 428.7h1108.8v17.3h-1108.8zM2546.7 428.7h51.2v17.3h-51.2zM158.6 445.7h307.0v17.3h-307.0zM482.7 445.7h17.1v17.3h-17.1zM516.8 445.7h818.8v17.3h-818.8zM1352.6 445.7h238.8v17.3h-238.8zM1693.8 445.7h17.1v17.3h-17.1zM2410.2 445.7h17.1v17.3h-17.1zM2529.6 445.7h51.2v17.3h-51.2zM158.6 462.7h1415.8v17.3h-1415.8zM1676.7 462.7h17.1v17.3h-17.1zM2376.1 462.7h68.2v17.3h-68.2zM2512.6 462.7h17.1v17.3h-17.1zM2546.7 462.7h17.1v17.3h-17.1zM141.5 479.7h1415.8v17.3h-1415.8zM1591.4 479.7h17.1v17.3h-17.1zM1659.7 479.7h68.2v17.3h-68.2zM1796.1 479.7h34.1v17.3h-34.1zM2307.9 479.7h136.5v17.3h-136.5zM2495.5 479.7h51.2v17.3h-51.2zM124.5 496.7h1415.8v17.3h-1415.8zM1557.3 496.7h34.1v17.3h-34.1zM1625.6 496.7h204.7v17.3h-204.7zM1864.4 496.7h17.1v17.3h-17.1zM2256.7 496.7h187.6v17.3h-187.6zM2495.5 496.7h17.1v17.3h-17.1zM124.5 513.7h272.9v17.3h-272.9zM431.5 513.7h1432.9v17.3h-1432.9zM2256.7 513.7h153.5v17.3h-153.5zM107.4 530.7h255.9v17.3h-255.9zM448.6 530.7h1330.5v17.3h-1330.5zM1847.3 530.7h17.1v17.3h-17.1zM2239.6 530.7h170.6v17.3h-170.6zM107.4 547.7h238.8v17.3h-238.8zM448.6 547.7h1296.4v17.3h-1296.4zM1847.3 547.7h51.2v17.3h-51.2zM2239.6 547.7h153.5v17.3h-153.5zM107.4 564.7h238.8v17.3h-238.8zM431.5 564.7h272.9v17.3h-272.9zM721.5 564.7h85.3v17.3h-85.3zM840.9 564.7h614.1v17.3h-614.1zM1557.3 564.7h187.6v17.3h-187.6zM1830.3 564.7h85.3v17.3h-85.3zM2239.6 564.7h136.5v17.3h-136.5zM107.4 581.7h238.8v17.3h-238.8zM448.6 581.7h341.2v17.3h-341.2zM840.9 581.7h597.0v17.3h-597.0zM1574.4 581.7h153.5v17.3h-153.5zM1745.0 581.7h17.1v17.3h-17.1zM1830.3 581.7h85.3v17.3h-85.3zM2239.6 581.7h17.1v17.3h-17.1zM107.4 598.7h221.8v17.3h-221.8zM465.6 598.7h34.1v17.3h-34.1zM516.8 598.7h272.9v17.3h-272.9zM840.9 598.7h614.1v17.3h-614.1zM1574.4 598.7h170.6v17.3h-170.6zM1796.1 598.7h136.5v17.3h-136.5zM2239.6 598.7h51.2v17.3h-51.2zM90.3 615.7h85.3v17.3h-85.3zM192.7 615.7h153.5v17.3h-153.5zM533.8 615.7h238.8v17.3h-238.8zM840.9 615.7h631.1v17.3h-631.1zM1557.3 615.7h187.6v17.3h-187.6zM1796.1 615.7h119.4v17.3h-119.4zM2222.6 615.7h68.2v17.3h-68.2zM73.3 632.7h102.3v17.3h-102.3zM209.7 632.7h136.5v17.3h-136.5zM550.9 632.7h68.2v17.3h-68.2zM687.4 632.7h85.3v17.3h-85.3zM857.9 632.7h887.0v17.3h-887.0zM1796.1 632.7h119.4v17.3h-119.4zM1932.6 632.7h34.1v17.3h-34.1zM2137.3 632.7h17.1v17.3h-17.1zM2222.6 632.7h136.5v17.3h-136.5zM73.3 649.7h85.3v17.3h-85.3zM209.7 649.7h136.5v17.3h-136.5zM568.0 649.7h34.1v17.3h-34.1zM738.5 649.7h34.1v17.3h-34.1zM857.9 649.7h887.0v17.3h-887.0zM1796.1 649.7h102.3v17.3h-102.3zM1915.5 649.7h51.2v17.3h-51.2zM2120.2 649.7h17.1v17.3h-17.1zM2222.6 649.7h136.5v17.3h-136.5zM73.3 666.7h85.3v17.3h-85.3zM209.7 666.7h170.6v17.3h-170.6zM943.2 666.7h801.7v17.3h-801.7zM1796.1 666.7h170.6v17.3h-170.6zM2222.6 666.7h136.5v17.3h-136.5zM73.3 683.7h68.2v17.3h-68.2zM226.8 683.7h170.6v17.3h-170.6zM960.3 683.7h767.6v17.3h-767.6zM1796.1 683.7h187.6v17.3h-187.6zM2256.7 683.7h102.3v17.3h-102.3zM90.3 700.7h51.2v17.3h-51.2zM226.8 700.7h170.6v17.3h-170.6zM960.3 700.7h767.6v17.3h-767.6zM1898.5 700.7h85.3v17.3h-85.3zM2239.6 700.7h119.4v17.3h-119.4zM73.3 717.6h68.2v17.3h-68.2zM226.8 717.6h170.6v17.3h-170.6zM960.3 717.6h784.7v17.3h-784.7zM1915.5 717.6h51.2v17.3h-51.2zM2222.6 717.6h136.5v17.3h-136.5zM73.3 734.6h85.3v17.3h-85.3zM243.9 734.6h153.5v17.3h-153.5zM960.3 734.6h733.5v17.3h-733.5zM1915.5 734.6h34.1v17.3h-34.1zM2205.5 734.6h136.5v17.3h-136.5zM73.3 751.6h102.3v17.3h-102.3zM243.9 751.6h170.6v17.3h-170.6zM823.8 751.6h17.1v17.3h-17.1zM977.4 751.6h682.3v17.3h-682.3zM1932.6 751.6h17.1v17.3h-17.1zM2222.6 751.6h119.4v17.3h-119.4zM73.3 768.6h119.4v17.3h-119.4zM243.9 768.6h170.6v17.3h-170.6zM550.9 768.6h51.2v17.3h-51.2zM977.4 768.6h648.2v17.3h-648.2zM1932.6 768.6h17.1v17.3h-17.1zM1966.7 768.6h17.1v17.3h-17.1zM2017.9 768.6h17.1v17.3h-17.1zM2205.5 768.6h119.4v17.3h-119.4zM90.3 785.6h102.3v17.3h-102.3zM243.9 785.6h170.6v17.3h-170.6zM550.9 785.6h51.2v17.3h-51.2zM977.4 785.6h221.8v17.3h-221.8zM1250.3 785.6h341.2v17.3h-341.2zM1932.6 785.6h102.3v17.3h-102.3zM2222.6 785.6h85.3v17.3h-85.3zM2376.1 785.6h17.1v17.3h-17.1zM90.3 802.6h85.3v17.3h-85.3zM260.9 802.6h51.2v17.3h-51.2zM380.3 802.6h51.2v17.3h-51.2zM550.9 802.6h51.2v17.3h-51.2zM994.4 802.6h170.6v17.3h-170.6zM1233.2 802.6h375.3v17.3h-375.3zM1642.6 802.6h34.1v17.3h-34.1zM1915.5 802.6h136.5v17.3h-136.5zM2103.2 802.6h17.1v17.3h-17.1zM2205.5 802.6h102.3v17.3h-102.3zM2359.1 802.6h34.1v17.3h-34.1zM90.3 819.6h68.2v17.3h-68.2zM260.9 819.6h34.1v17.3h-34.1zM380.3 819.6h51.2v17.3h-51.2zM994.4 819.6h170.6v17.3h-170.6zM1216.2 819.6h511.7v17.3h-511.7zM1915.5 819.6h204.7v17.3h-204.7zM2205.5 819.6h102.3v17.3h-102.3zM2359.1 819.6h34.1v17.3h-34.1zM107.4 836.6h51.2v17.3h-51.2zM380.3 836.6h51.2v17.3h-51.2zM994.4 836.6h170.6v17.3h-170.6zM1233.2 836.6h545.9v17.3h-545.9zM1864.4 836.6h255.9v17.3h-255.9zM2205.5 836.6h119.4v17.3h-119.4zM2359.1 836.6h17.1v17.3h-17.1zM90.3 853.6h34.1v17.3h-34.1zM380.3 853.6h34.1v17.3h-34.1zM994.4 853.6h1142.9v17.3h-1142.9zM2205.5 853.6h170.6v17.3h-170.6zM994.4 870.6h1142.9v17.3h-1142.9zM2205.5 870.6h153.5v17.3h-153.5zM107.4 887.6h17.1v17.3h-17.1zM977.4 887.6h1159.9v17.3h-1159.9zM2205.5 887.6h170.6v17.3h-170.6zM107.4 904.6h34.1v17.3h-34.1zM789.7 904.6h17.1v17.3h-17.1zM823.8 904.6h85.3v17.3h-85.3zM977.4 904.6h1177.0v17.3h-1177.0zM2205.5 904.6h170.6v17.3h-170.6zM107.4 921.6h34.1v17.3h-34.1zM516.8 921.6h34.1v17.3h-34.1zM738.5 921.6h17.1v17.3h-17.1zM789.7 921.6h17.1v17.3h-17.1zM823.8 921.6h85.3v17.3h-85.3zM977.4 921.6h1177.0v17.3h-1177.0zM2222.6 921.6h136.5v17.3h-136.5zM107.4 938.6h34.1v17.3h-34.1zM499.7 938.6h68.2v17.3h-68.2zM823.8 938.6h85.3v17.3h-85.3zM977.4 938.6h972.3v17.3h-972.3zM2000.8 938.6h153.5v17.3h-153.5zM2239.6 938.6h119.4v17.3h-119.4zM107.4 955.6h34.1v17.3h-34.1zM414.4 955.6h153.5v17.3h-153.5zM806.8 955.6h119.4v17.3h-119.4zM977.4 955.6h989.4v17.3h-989.4zM2000.8 955.6h153.5v17.3h-153.5zM2239.6 955.6h119.4v17.3h-119.4zM124.5 972.6h17.1v17.3h-17.1zM414.4 972.6h153.5v17.3h-153.5zM806.8 972.6h119.4v17.3h-119.4zM960.3 972.6h1006.4v17.3h-1006.4zM1983.8 972.6h221.8v17.3h-221.8zM2222.6 972.6h136.5v17.3h-136.5zM124.5 989.6h34.1v17.3h-34.1zM363.3 989.6h221.8v17.3h-221.8zM789.7 989.6h1569.3v17.3h-1569.3zM124.5 1006.6h34.1v17.3h-34.1zM329.1 1006.6h187.6v17.3h-187.6zM533.8 1006.6h85.3v17.3h-85.3zM738.5 1006.6h1245.2v17.3h-1245.2zM2000.8 1006.6h358.2v17.3h-358.2zM141.5 1023.6h17.1v17.3h-17.1zM329.1 1023.6h187.6v17.3h-187.6zM533.8 1023.6h119.4v17.3h-119.4zM721.5 1023.6h1296.4v17.3h-1296.4zM2034.9 1023.6h341.2v17.3h-341.2zM124.5 1040.5h34.1v17.3h-34.1zM329.1 1040.5h1535.2v17.3h-1535.2zM1898.5 1040.5h102.3v17.3h-102.3zM2069.1 1040.5h324.1v17.3h-324.1zM124.5 1057.5h51.2v17.3h-51.2zM312.1 1057.5h580.0v17.3h-580.0zM909.1 1057.5h921.1v17.3h-921.1zM1881.4 1057.5h136.5v17.3h-136.5zM2069.1 1057.5h324.1v17.3h-324.1zM175.6 1074.5h17.1v17.3h-17.1zM312.1 1074.5h580.0v17.3h-580.0zM909.1 1074.5h904.1v17.3h-904.1zM1898.5 1074.5h102.3v17.3h-102.3zM2120.2 1074.5h272.9v17.3h-272.9zM192.7 1091.5h17.1v17.3h-17.1zM295.0 1091.5h1501.1v17.3h-1501.1zM1898.5 1091.5h119.4v17.3h-119.4zM2103.2 1091.5h290.0v17.3h-290.0zM209.7 1108.5h17.1v17.3h-17.1zM295.0 1108.5h1211.1v17.3h-1211.1zM1540.3 1108.5h272.9v17.3h-272.9zM1898.5 1108.5h170.6v17.3h-170.6zM2086.1 1108.5h290.0v17.3h-290.0zM295.0 1125.5h290.0v17.3h-290.0zM602.1 1125.5h187.6v17.3h-187.6zM806.8 1125.5h51.2v17.3h-51.2zM875.0 1125.5h648.2v17.3h-648.2zM1540.3 1125.5h290.0v17.3h-290.0zM1915.5 1125.5h443.5v17.3h-443.5zM312.1 1142.5h204.7v17.3h-204.7zM585.0 1142.5h187.6v17.3h-187.6zM875.0 1142.5h187.6v17.3h-187.6zM1113.8 1142.5h716.4v17.3h-716.4zM1898.5 1142.5h426.4v17.3h-426.4zM243.9 1159.5h17.1v17.3h-17.1zM312.1 1159.5h204.7v17.3h-204.7zM568.0 1159.5h119.4v17.3h-119.4zM704.4 1159.5h68.2v17.3h-68.2zM875.0 1159.5h204.7v17.3h-204.7zM1096.8 1159.5h102.3v17.3h-102.3zM1267.3 1159.5h580.0v17.3h-580.0zM1898.5 1159.5h409.4v17.3h-409.4zM312.1 1176.5h187.6v17.3h-187.6zM568.0 1176.5h68.2v17.3h-68.2zM704.4 1176.5h68.2v17.3h-68.2zM875.0 1176.5h307.0v17.3h-307.0zM1250.3 1176.5h631.1v17.3h-631.1zM1898.5 1176.5h409.4v17.3h-409.4zM312.1 1193.5h187.6v17.3h-187.6zM550.9 1193.5h51.2v17.3h-51.2zM721.5 1193.5h34.1v17.3h-34.1zM875.0 1193.5h307.0v17.3h-307.0zM1233.2 1193.5h1057.6v17.3h-1057.6zM329.1 1210.5h153.5v17.3h-153.5zM568.0 1210.5h34.1v17.3h-34.1zM892.1 1210.5h272.9v17.3h-272.9zM1199.1 1210.5h1057.6v17.3h-1057.6zM329.1 1227.5h153.5v17.3h-153.5zM568.0 1227.5h34.1v17.3h-34.1zM892.1 1227.5h272.9v17.3h-272.9zM1182.0 1227.5h1057.6v17.3h-1057.6zM380.3 1244.5h119.4v17.3h-119.4zM909.1 1244.5h221.8v17.3h-221.8zM1165.0 1244.5h1040.5v17.3h-1040.5zM397.4 1261.5h102.3v17.3h-102.3zM909.1 1261.5h221.8v17.3h-221.8zM1165.0 1261.5h1023.5v17.3h-1023.5zM414.4 1278.5h85.3v17.3h-85.3zM602.1 1278.5h17.1v17.3h-17.1zM738.5 1278.5h68.2v17.3h-68.2zM909.1 1278.5h238.8v17.3h-238.8zM1182.0 1278.5h290.0v17.3h-290.0zM1506.1 1278.5h290.0v17.3h-290.0zM1847.3 1278.5h324.1v17.3h-324.1zM448.6 1295.5h221.8v17.3h-221.8zM721.5 1295.5h102.3v17.3h-102.3zM909.1 1295.5h238.8v17.3h-238.8zM1216.2 1295.5h85.3v17.3h-85.3zM1318.5 1295.5h119.4v17.3h-119.4zM1523.2 1295.5h272.9v17.3h-272.9zM1830.3 1295.5h307.0v17.3h-307.0zM482.7 1312.5h358.2v17.3h-358.2zM909.1 1312.5h255.9v17.3h-255.9zM1233.2 1312.5h17.1v17.3h-17.1zM1267.3 1312.5h34.1v17.3h-34.1zM1318.5 1312.5h102.3v17.3h-102.3zM1523.2 1312.5h597.0v17.3h-597.0zM499.7 1329.5h341.2v17.3h-341.2zM857.9 1329.5h17.1v17.3h-17.1zM892.1 1329.5h272.9v17.3h-272.9zM1233.2 1329.5h17.1v17.3h-17.1zM1301.5 1329.5h85.3v17.3h-85.3zM1403.8 1329.5h17.1v17.3h-17.1zM1506.1 1329.5h597.0v17.3h-597.0zM533.8 1346.5h528.8v17.3h-528.8zM1096.8 1346.5h17.1v17.3h-17.1zM1130.9 1346.5h51.2v17.3h-51.2zM1216.2 1346.5h187.6v17.3h-187.6zM1506.1 1346.5h562.9v17.3h-562.9zM550.9 1363.5h494.7v17.3h-494.7zM1130.9 1363.5h290.0v17.3h-290.0zM1472.0 1363.5h545.9v17.3h-545.9zM619.1 1380.5h102.3v17.3h-102.3zM789.7 1380.5h255.9v17.3h-255.9zM1113.8 1380.5h887.0v17.3h-887.0zM704.4 1397.4h17.1v17.3h-17.1zM823.8 1397.4h238.8v17.3h-238.8zM1079.7 1397.4h921.1v17.3h-921.1zM840.9 1414.4h1091.7v17.3h-1091.7zM1949.7 1414.4h17.1v17.3h-17.1zM840.9 1431.4h1074.7v17.3h-1074.7zM875.0 1448.4h1040.5v17.3h-1040.5zM892.1 1465.4h119.4v17.3h-119.4zM1079.7 1465.4h272.9v17.3h-272.9zM1369.7 1465.4h545.9v17.3h-545.9zM892.1 1482.4h119.4v17.3h-119.4zM1096.8 1482.4h17.1v17.3h-17.1zM1182.0 1482.4h426.4v17.3h-426.4zM1625.6 1482.4h255.9v17.3h-255.9zM1898.5 1482.4h17.1v17.3h-17.1zM892.1 1499.4h119.4v17.3h-119.4zM1216.2 1499.4h375.3v17.3h-375.3zM1642.6 1499.4h170.6v17.3h-170.6zM2069.1 1499.4h17.1v17.3h-17.1zM892.1 1516.4h34.1v17.3h-34.1zM1113.8 1516.4h17.1v17.3h-17.1zM1233.2 1516.4h392.3v17.3h-392.3zM1659.7 1516.4h85.3v17.3h-85.3zM2069.1 1516.4h17.1v17.3h-17.1zM1267.3 1533.4h358.2v17.3h-358.2zM2086.1 1533.4h17.1v17.3h-17.1zM1267.3 1550.4h221.8v17.3h-221.8zM1523.2 1550.4h102.3v17.3h-102.3zM1267.3 1567.4h187.6v17.3h-187.6zM2103.2 1567.4h17.1v17.3h-17.1zM1113.8 1584.4h34.1v17.3h-34.1zM1250.3 1584.4h170.6v17.3h-170.6zM2103.2 1584.4h51.2v17.3h-51.2zM2171.4 1584.4h68.2v17.3h-68.2zM1113.8 1601.4h68.2v17.3h-68.2zM1233.2 1601.4h170.6v17.3h-170.6zM2120.2 1601.4h119.4v17.3h-119.4zM1113.8 1618.4h272.9v17.3h-272.9zM2137.3 1618.4h102.3v17.3h-102.3zM1130.9 1635.4h221.8v17.3h-221.8zM2154.4 1635.4h68.2v17.3h-68.2zM1147.9 1652.4h187.6v17.3h-187.6zM2171.4 1652.4h51.2v17.3h-51.2zM1147.9 1669.4h170.6v17.3h-170.6zM2171.4 1669.4h51.2v17.3h-51.2zM1165.0 1686.4h136.5v17.3h-136.5zM2205.5 1686.4h17.1v17.3h-17.1zM1165.0 1703.4h119.4v17.3h-119.4zM1216.2 1720.4h85.3v17.3h-85.3zM1216.2 1737.3h85.3v17.3h-85.3zM1233.2 1754.3h68.2v17.3h-68.2zM2239.6 1754.3h34.1v17.3h-34.1zM1250.3 1771.3h51.2v17.3h-51.2zM2137.3 1771.3h17.1v17.3h-17.1zM2171.4 1771.3h17.1v17.3h-17.1zM2205.5 1771.3h17.1v17.3h-17.1zM1267.3 1788.3h34.1v17.3h-34.1z"/>
<path shape-rendering="crispEdges" fill="#559ec9" d="M448.6 292.8h51.2v17.3h-51.2zM2478.5 292.8h51.2v17.3h-51.2zM380.3 309.8h170.6v17.3h-170.6zM2495.5 309.8h34.1v17.3h-34.1zM363.3 326.8h187.6v17.3h-187.6zM755.6 326.8h17.1v17.3h-17.1zM2495.5 326.8h51.2v17.3h-51.2zM346.2 343.8h221.8v17.3h-221.8zM738.5 343.8h51.2v17.3h-51.2zM2495.5 343.8h51.2v17.3h-51.2zM346.2 360.8h221.8v17.3h-221.8zM721.5 360.8h85.3v17.3h-85.3zM2478.5 360.8h68.2v17.3h-68.2zM346.2 377.7h170.6v17.3h-170.6zM533.8 377.7h51.2v17.3h-51.2zM721.5 377.7h68.2v17.3h-68.2zM2461.4 377.7h102.3v17.3h-102.3zM363.3 394.7h204.7v17.3h-204.7zM721.5 394.7h68.2v17.3h-68.2zM2444.3 394.7h136.5v17.3h-136.5zM346.2 411.7h187.6v17.3h-187.6zM550.9 411.7h17.1v17.3h-17.1zM738.5 411.7h51.2v17.3h-51.2zM2444.3 411.7h119.4v17.3h-119.4zM312.1 428.7h17.1v17.3h-17.1zM346.2 428.7h170.6v17.3h-170.6zM2427.3 428.7h119.4v17.3h-119.4zM465.6 445.7h17.1v17.3h-17.1zM499.7 445.7h17.1v17.3h-17.1zM1335.6 445.7h17.1v17.3h-17.1zM2427.3 445.7h102.3v17.3h-102.3zM2444.3 462.7h68.2v17.3h-68.2zM2444.3 479.7h51.2v17.3h-51.2zM2444.3 496.7h51.2v17.3h-51.2zM2410.2 513.7h85.3v17.3h-85.3zM2410.2 530.7h85.3v17.3h-85.3zM2393.2 547.7h102.3v17.3h-102.3zM704.4 564.7h17.1v17.3h-17.1zM1455.0 564.7h102.3v17.3h-102.3zM2376.1 564.7h119.4v17.3h-119.4zM1437.9 581.7h136.5v17.3h-136.5zM2256.7 581.7h238.8v17.3h-238.8zM1455.0 598.7h119.4v17.3h-119.4zM2290.8 598.7h204.7v17.3h-204.7zM1472.0 615.7h85.3v17.3h-85.3zM2290.8 615.7h221.8v17.3h-221.8zM2529.6 615.7h17.1v17.3h-17.1zM2154.4 632.7h68.2v17.3h-68.2zM2359.1 632.7h187.6v17.3h-187.6zM2137.3 649.7h85.3v17.3h-85.3zM2359.1 649.7h187.6v17.3h-187.6zM2137.3 666.7h85.3v17.3h-85.3zM2359.1 666.7h119.4v17.3h-119.4zM2120.2 683.7h136.5v17.3h-136.5zM2359.1 683.7h119.4v17.3h-119.4zM1813.2 700.7h85.3v17.3h-85.3zM2103.2 700.7h136.5v17.3h-136.5zM2359.1 700.7h102.3v17.3h-102.3zM1813.2 717.6h102.3v17.3h-102.3zM2086.1 717.6h136.5v17.3h-136.5zM2359.1 717.6h85.3v17.3h-85.3zM1693.8 734.6h51.2v17.3h-51.2zM1813.2 734.6h102.3v17.3h-102.3zM2069.1 734.6h136.5v17.3h-136.5zM2342.0 734.6h68.2v17.3h-68.2zM1659.7 751.6h85.3v17.3h-85.3zM1813.2 751.6h119.4v17.3h-119.4zM2034.9 751.6h187.6v17.3h-187.6zM2342.0 751.6h51.2v17.3h-51.2zM1625.6 768.6h119.4v17.3h-119.4zM1796.1 768.6h136.5v17.3h-136.5zM2034.9 768.6h170.6v17.3h-170.6zM2324.9 768.6h68.2v17.3h-68.2zM1199.1 785.6h51.2v17.3h-51.2zM1591.4 785.6h170.6v17.3h-170.6zM1779.1 785.6h153.5v17.3h-153.5zM2034.9 785.6h187.6v17.3h-187.6zM2307.9 785.6h68.2v17.3h-68.2zM1165.0 802.6h68.2v17.3h-68.2zM1608.5 802.6h34.1v17.3h-34.1zM1676.7 802.6h238.8v17.3h-238.8zM2052.0 802.6h51.2v17.3h-51.2zM2120.2 802.6h85.3v17.3h-85.3zM2307.9 802.6h51.2v17.3h-51.2zM1165.0 819.6h51.2v17.3h-51.2zM1727.9 819.6h187.6v17.3h-187.6zM2120.2 819.6h85.3v17.3h-85.3zM2307.9 819.6h51.2v17.3h-51.2zM1165.0 836.6h68.2v17.3h-68.2zM1779.1 836.6h85.3v17.3h-85.3zM2120.2 836.6h85.3v17.3h-85.3zM2324.9 836.6h34.1v17.3h-34.1zM2137.3 853.6h68.2v17.3h-68.2zM2137.3 870.6h68.2v17.3h-68.2zM2137.3 887.6h68.2v17.3h-68.2zM2154.4 904.6h51.2v17.3h-51.2zM2154.4 921.6h68.2v17.3h-68.2zM1949.7 938.6h51.2v17.3h-51.2zM2154.4 938.6h85.3v17.3h-85.3zM1966.7 955.6h34.1v17.3h-34.1zM2154.4 955.6h85.3v17.3h-85.3zM1966.7 972.6h17.1v17.3h-17.1zM2205.5 972.6h17.1v17.3h-17.1zM1983.8 1006.6h17.1v17.3h-17.1zM2017.9 1023.6h17.1v17.3h-17.1zM1864.4 1040.5h34.1v17.3h-34.1zM2000.8 1040.5h68.2v17.3h-68.2zM892.1 1057.5h17.1v17.3h-17.1zM1830.3 1057.5h51.2v17.3h-51.2zM2017.9 1057.5h51.2v17.3h-51.2zM892.1 1074.5h17.1v17.3h-17.1zM1813.2 1074.5h85.3v17.3h-85.3zM2000.8 1074.5h119.4v17.3h-119.4zM1796.1 1091.5h102.3v17.3h-102.3zM2017.9 1091.5h85.3v17.3h-85.3zM1813.2 1108.5h85.3v17.3h-85.3zM2069.1 1108.5h17.1v17.3h-17.1zM585.0 1125.5h17.1v17.3h-17.1zM789.7 1125.5h17.1v17.3h-17.1zM857.9 1125.5h17.1v17.3h-17.1zM1830.3 1125.5h85.3v17.3h-85.3zM516.8 1142.5h68.2v17.3h-68.2zM772.7 1142.5h102.3v17.3h-102.3zM1830.3 1142.5h68.2v17.3h-68.2zM516.8 1159.5h51.2v17.3h-51.2zM687.4 1159.5h17.1v17.3h-17.1zM772.7 1159.5h102.3v17.3h-102.3zM1847.3 1159.5h51.2v17.3h-51.2zM499.7 1176.5h68.2v17.3h-68.2zM636.2 1176.5h68.2v17.3h-68.2zM772.7 1176.5h102.3v17.3h-102.3zM1881.4 1176.5h17.1v17.3h-17.1zM499.7 1193.5h51.2v17.3h-51.2zM602.1 1193.5h119.4v17.3h-119.4zM755.6 1193.5h119.4v17.3h-119.4zM482.7 1210.5h85.3v17.3h-85.3zM602.1 1210.5h290.0v17.3h-290.0zM482.7 1227.5h85.3v17.3h-85.3zM602.1 1227.5h290.0v17.3h-290.0zM499.7 1244.5h409.4v17.3h-409.4zM2205.5 1244.5h34.1v17.3h-34.1zM499.7 1261.5h409.4v17.3h-409.4zM2188.5 1261.5h51.2v17.3h-51.2zM499.7 1278.5h102.3v17.3h-102.3zM619.1 1278.5h119.4v17.3h-119.4zM806.8 1278.5h102.3v17.3h-102.3zM1796.1 1278.5h51.2v17.3h-51.2zM2171.4 1278.5h51.2v17.3h-51.2zM670.3 1295.5h51.2v17.3h-51.2zM823.8 1295.5h85.3v17.3h-85.3zM1796.1 1295.5h34.1v17.3h-34.1zM2137.3 1295.5h68.2v17.3h-68.2zM840.9 1312.5h68.2v17.3h-68.2zM2120.2 1312.5h68.2v17.3h-68.2zM840.9 1329.5h17.1v17.3h-17.1zM875.0 1329.5h17.1v17.3h-17.1zM2103.2 1329.5h68.2v17.3h-68.2zM2069.1 1346.5h102.3v17.3h-102.3zM2017.9 1363.5h136.5v17.3h-136.5zM2000.8 1380.5h153.5v17.3h-153.5zM2000.8 1397.4h153.5v17.3h-153.5zM1932.6 1414.4h17.1v17.3h-17.1zM1966.7 1414.4h187.6v17.3h-187.6zM1915.5 1431.4h238.8v17.3h-238.8zM1915.5 1448.4h238.8v17.3h-238.8zM1915.5 1465.4h255.9v17.3h-255.9zM1608.5 1482.4h17.1v17.3h-17.1zM1915.5 1482.4h272.9v17.3h-272.9zM1591.4 1499.4h51.2v17.3h-51.2zM1932.6 1499.4h68.2v17.3h-68.2zM2086.1 1499.4h102.3v17.3h-102.3zM1625.6 1516.4h34.1v17.3h-34.1zM1949.7 1516.4h34.1v17.3h-34.1zM2086.1 1516.4h119.4v17.3h-119.4zM1625.6 1533.4h119.4v17.3h-119.4zM2103.2 1533.4h119.4v17.3h-119.4zM1625.6 1550.4h102.3v17.3h-102.3zM2103.2 1550.4h119.4v17.3h-119.4zM1625.6 1567.4h136.5v17.3h-136.5zM2120.2 1567.4h102.3v17.3h-102.3zM1642.6 1584.4h17.1v17.3h-17.1zM1727.9 1584.4h17.1v17.3h-17.1zM2154.4 1584.4h17.1v17.3h-17.1zM2239.6 1601.4h17.1v17.3h-17.1zM2103.2 1618.4h34.1v17.3h-34.1zM2239.6 1618.4h34.1v17.3h-34.1zM2120.2 1635.4h34.1v17.3h-34.1zM2222.6 1635.4h51.2v17.3h-51.2zM2137.3 1652.4h34.1v17.3h-34.1zM2222.6 1652.4h51.2v17.3h-51.2zM2137.3 1669.4h34.1v17.3h-34.1zM2222.6 1669.4h51.2v17.3h-51.2zM2154.4 1686.4h51.2v17.3h-51.2zM2222.6 1686.4h51.2v17.3h-51.2zM2171.4 1703.4h119.4v17.3h-119.4zM1165.0 1720.4h51.2v17.3h-51.2zM2188.5 1720.4h102.3v17.3h-102.3zM1182.0 1737.3h34.1v17.3h-34.1zM2222.6 1737.3h68.2v17.3h-68.2zM1182.0 1754.3h51.2v17.3h-51.2zM2222.6 1754.3h17.1v17.3h-17.1zM1216.2 1771.3h34.1v17.3h-34.1z"/>
<path shape-rendering="crispEdges" fill="#e2edf3" d="M1096.8 360.8h17.1v17.3h-17.1zM397.4 513.7h34.1v17.3h-34.1zM363.3 530.7h85.3v17.3h-85.3zM346.2 547.7h102.3v17.3h-102.3zM346.2 564.7h85.3v17.3h-85.3zM806.8 564.7h34.1v17.3h-34.1zM346.2 581.7h102.3v17.3h-102.3zM789.7 581.7h51.2v17.3h-51.2zM329.1 598.7h136.5v17.3h-136.5zM499.7 598.7h17.1v17.3h-17.1zM789.7 598.7h51.2v17.3h-51.2zM175.6 615.7h17.1v17.3h-17.1zM346.2 615.7h187.6v17.3h-187.6zM772.7 615.7h68.2v17.3h-68.2zM175.6 632.7h34.1v17.3h-34.1zM346.2 632.7h204.7v17.3h-204.7zM619.1 632.7h68.2v17.3h-68.2zM772.7 632.7h85.3v17.3h-85.3zM158.6 649.7h51.2v17.3h-51.2zM346.2 649.7h221.8v17.3h-221.8zM602.1 649.7h136.5v17.3h-136.5zM772.7 649.7h85.3v17.3h-85.3zM158.6 666.7h51.2v17.3h-51.2zM380.3 666.7h562.9v17.3h-562.9zM141.5 683.7h85.3v17.3h-85.3zM397.4 683.7h562.9v17.3h-562.9zM141.5 700.7h85.3v17.3h-85.3zM397.4 700.7h562.9v17.3h-562.9zM141.5 717.6h85.3v17.3h-85.3zM397.4 717.6h562.9v17.3h-562.9zM158.6 734.6h85.3v17.3h-85.3zM397.4 734.6h272.9v17.3h-272.9zM704.4 734.6h255.9v17.3h-255.9zM175.6 751.6h68.2v17.3h-68.2zM414.4 751.6h255.9v17.3h-255.9zM721.5 751.6h102.3v17.3h-102.3zM840.9 751.6h136.5v17.3h-136.5zM192.7 768.6h51.2v17.3h-51.2zM414.4 768.6h136.5v17.3h-136.5zM602.1 768.6h68.2v17.3h-68.2zM721.5 768.6h255.9v17.3h-255.9zM192.7 785.6h51.2v17.3h-51.2zM414.4 785.6h136.5v17.3h-136.5zM602.1 785.6h375.3v17.3h-375.3zM175.6 802.6h85.3v17.3h-85.3zM312.1 802.6h68.2v17.3h-68.2zM431.5 802.6h119.4v17.3h-119.4zM602.1 802.6h68.2v17.3h-68.2zM704.4 802.6h290.0v17.3h-290.0zM158.6 819.6h102.3v17.3h-102.3zM295.0 819.6h85.3v17.3h-85.3zM431.5 819.6h255.9v17.3h-255.9zM704.4 819.6h290.0v17.3h-290.0zM158.6 836.6h221.8v17.3h-221.8zM431.5 836.6h238.8v17.3h-238.8zM687.4 836.6h307.0v17.3h-307.0zM124.5 853.6h255.9v17.3h-255.9zM414.4 853.6h580.0v17.3h-580.0zM90.3 870.6h904.1v17.3h-904.1zM124.5 887.6h852.9v17.3h-852.9zM141.5 904.6h68.2v17.3h-68.2zM260.9 904.6h528.8v17.3h-528.8zM806.8 904.6h17.1v17.3h-17.1zM909.1 904.6h68.2v17.3h-68.2zM141.5 921.6h68.2v17.3h-68.2zM278.0 921.6h238.8v17.3h-238.8zM550.9 921.6h187.6v17.3h-187.6zM755.6 921.6h34.1v17.3h-34.1zM806.8 921.6h17.1v17.3h-17.1zM909.1 921.6h68.2v17.3h-68.2zM141.5 938.6h68.2v17.3h-68.2zM295.0 938.6h204.7v17.3h-204.7zM568.0 938.6h255.9v17.3h-255.9zM909.1 938.6h68.2v17.3h-68.2zM141.5 955.6h68.2v17.3h-68.2zM278.0 955.6h136.5v17.3h-136.5zM568.0 955.6h238.8v17.3h-238.8zM926.2 955.6h51.2v17.3h-51.2zM141.5 972.6h85.3v17.3h-85.3zM243.9 972.6h170.6v17.3h-170.6zM568.0 972.6h238.8v17.3h-238.8zM926.2 972.6h34.1v17.3h-34.1zM158.6 989.6h204.7v17.3h-204.7zM585.0 989.6h204.7v17.3h-204.7zM158.6 1006.6h170.6v17.3h-170.6zM516.8 1006.6h17.1v17.3h-17.1zM619.1 1006.6h119.4v17.3h-119.4zM158.6 1023.6h170.6v17.3h-170.6zM516.8 1023.6h17.1v17.3h-17.1zM653.2 1023.6h68.2v17.3h-68.2zM158.6 1040.5h170.6v17.3h-170.6zM175.6 1057.5h136.5v17.3h-136.5zM192.7 1074.5h119.4v17.3h-119.4zM209.7 1091.5h85.3v17.3h-85.3zM226.8 1108.5h68.2v17.3h-68.2zM1506.1 1108.5h34.1v17.3h-34.1zM226.8 1125.5h68.2v17.3h-68.2zM1523.2 1125.5h17.1v17.3h-17.1zM243.9 1142.5h68.2v17.3h-68.2zM1062.6 1142.5h51.2v17.3h-51.2zM260.9 1159.5h51.2v17.3h-51.2zM1079.7 1159.5h17.1v17.3h-17.1zM1199.1 1159.5h68.2v17.3h-68.2zM260.9 1176.5h51.2v17.3h-51.2zM1182.0 1176.5h68.2v17.3h-68.2zM260.9 1193.5h51.2v17.3h-51.2zM1182.0 1193.5h51.2v17.3h-51.2zM260.9 1210.5h68.2v17.3h-68.2zM1165.0 1210.5h34.1v17.3h-34.1zM295.0 1227.5h34.1v17.3h-34.1zM1165.0 1227.5h17.1v17.3h-17.1zM1130.9 1244.5h34.1v17.3h-34.1zM1130.9 1261.5h34.1v17.3h-34.1zM1147.9 1278.5h34.1v17.3h-34.1zM1472.0 1278.5h34.1v17.3h-34.1zM1147.9 1295.5h68.2v17.3h-68.2zM1301.5 1295.5h17.1v17.3h-17.1zM1437.9 1295.5h85.3v17.3h-85.3zM1165.0 1312.5h68.2v17.3h-68.2zM1250.3 1312.5h17.1v17.3h-17.1zM1301.5 1312.5h17.1v17.3h-17.1zM1420.9 1312.5h102.3v17.3h-102.3zM1165.0 1329.5h68.2v17.3h-68.2zM1250.3 1329.5h51.2v17.3h-51.2zM1386.7 1329.5h17.1v17.3h-17.1zM1420.9 1329.5h85.3v17.3h-85.3zM1062.6 1346.5h34.1v17.3h-34.1zM1113.8 1346.5h17.1v17.3h-17.1zM1182.0 1346.5h34.1v17.3h-34.1zM1403.8 1346.5h102.3v17.3h-102.3zM1045.6 1363.5h85.3v17.3h-85.3zM1420.9 1363.5h51.2v17.3h-51.2zM1045.6 1380.5h68.2v17.3h-68.2zM1062.6 1397.4h17.1v17.3h-17.1zM857.9 1448.4h17.1v17.3h-17.1zM875.0 1465.4h17.1v17.3h-17.1zM1011.5 1465.4h68.2v17.3h-68.2zM1352.6 1465.4h17.1v17.3h-17.1zM1011.5 1482.4h85.3v17.3h-85.3zM1113.8 1482.4h68.2v17.3h-68.2zM1011.5 1499.4h204.7v17.3h-204.7zM926.2 1516.4h187.6v17.3h-187.6zM1130.9 1516.4h102.3v17.3h-102.3zM909.1 1533.4h102.3v17.3h-102.3zM1045.6 1533.4h221.8v17.3h-221.8zM926.2 1550.4h68.2v17.3h-68.2zM1079.7 1550.4h187.6v17.3h-187.6zM943.2 1567.4h34.1v17.3h-34.1zM1096.8 1567.4h170.6v17.3h-170.6zM1147.9 1584.4h102.3v17.3h-102.3zM1182.0 1601.4h51.2v17.3h-51.2z"/>
<path shape-rendering="crispEdges" fill="#fae7dc" d="M670.3 734.6h34.1v17.3h-34.1zM670.3 751.6h51.2v17.3h-51.2zM670.3 768.6h51.2v17.3h-51.2zM670.3 802.6h34.1v17.3h-34.1zM687.4 819.6h17.1v17.3h-17.1zM670.3 836.6h17.1v17.3h-17.1zM209.7 904.6h51.2v17.3h-51.2zM209.7 921.6h68.2v17.3h-68.2zM209.7 938.6h85.3v17.3h-85.3zM209.7 955.6h68.2v17.3h-68.2zM226.8 972.6h17.1v17.3h-17.1z"/>
<path fill="none" stroke="#000" stroke-width="4.4" stroke-linejoin="round" stroke-linecap="round" d="M235.5 180.2 L245.7 189.3 L256.4 198.9 L267.1 207.5 L277.8 214.4 L282.1 212.3 L285.9 212.6 L289.6 215.0 L292.3 212.3M285.3 180.7 L285.3 202.1 L288.5 205.3 L289.1 196.8 L290.1 182.9 L286.4 181.8 L287.5 201.1M298.2 205.3 L301.4 212.8 L299.3 208.6M307.8 204.3 L313.2 207.0 L311.0 210.7 L307.8 206.4 L312.1 207.5M297.1 212.8 L303.5 218.2 L308.9 221.4 L306.7 217.1 L301.4 213.9M310.0 181.8 L315.3 186.1 L318.5 182.9M317.5 180.2 L321.2 186.1 L321.2 191.4 L320.9 197.8 L322.8 202.1 L327.1 203.7 L326.0 212.8 L323.9 220.3 L318.5 221.4 L321.7 226.8 L322.8 234.3 L320.1 239.6 L322.3 245.0 L323.9 252.5 L318.5 258.9 L313.2 264.3 L311.0 272.8 L308.9 281.4 L305.7 287.8 L301.4 291.0 L296.0 289.4 L291.8 295.3 L286.4 299.1 L282.1 295.3 L274.6 292.1 L278.9 287.8 L285.3 283.5 L289.6 286.7 L294.4 283.5 L297.1 277.1 L299.3 269.6 L303.5 264.3 L307.8 260.0 L306.7 254.6 L297.1 257.8 L286.4 265.3 L277.8 271.8 L274.1 277.1 L276.8 279.3 L284.3 278.2 L280.0 276.0 L286.4 269.6 L297.1 262.1 L306.7 256.8 L307.8 251.4 L307.3 245.0 L306.7 236.4 L303.5 238.5 L296.0 239.6 L292.8 235.3 L290.1 232.1 L284.3 231.6 L275.7 227.8 L265.0 222.5 L256.4 217.1 L251.1 211.8 L243.6 205.3 L236.1 197.8 L236.1 197.8 L232.8 205.3 L229.6 215.0 L228.6 223.6 L232.3 232.1 L232.8 241.8 L231.2 251.4 L230.2 261.0 L230.7 271.8 L228.6 279.3 L227.0 283.5 L232.8 284.6 L239.3 290.8 L227.0 292.1 L224.8 298.5 L231.2 307.6 L227.5 317.8 L223.2 320.0 L223.7 308.2 L218.9 317.8 L214.6 325.3 L215.9 334.1 L210.9 354.2 L205.8 367.6 L199.1 384.3 L190.8 404.4 L182.4 421.1 L174.0 437.8 L165.7 454.6 L157.3 471.3 L148.9 483.0 L140.6 491.4 L132.2 503.1 L122.2 514.8 L123.2 531.6 L117.1 544.9 L115.5 556.7 L118.8 568.4 L112.1 581.8 L115.5 595.1 L108.8 611.9 L100.4 623.6 L92.0 637.0 L80.3 650.0M217.6 332.4 L234.3 335.1 L247.7 345.1M1955.4 193.5 L1969.8 179.5M1984.9 179.5 L2001.6 188.5 L2017.7 203.6M2282.0 502.1 L2303.8 479.7 L2317.1 461.3 L2327.2 437.8 L2332.2 414.4 L2347.3 397.7 L2360.7 380.9 L2377.4 364.2 L2394.1 347.5 L2410.9 327.4 L2420.9 304.0 L2427.6 283.9 L2430.9 260.4 L2436.0 233.7 L2444.3 210.2 L2454.4 193.5 L2467.8 179.5M2282.0 502.1 L2305.4 481.3 L2319.8 462.9 L2329.2 439.5 L2333.9 417.1 L2349.3 399.7 L2363.3 382.9 L2380.7 365.9 L2399.1 348.1 L2416.9 327.4 L2434.3 297.3 L2441.0 270.5 L2447.7 250.4 L2457.7 230.3 L2471.1 213.6 L2487.8 196.9 L2507.9 179.5M2430.9 260.4 L2404.2 256.4 L2387.4 257.8 L2372.4 256.4M2430.9 258.8 L2400.8 258.1 L2374.0 257.1M2310.4 451.2 L2322.2 447.9 L2323.8 462.9 L2312.1 461.3 L2310.4 451.2M2616.7 179.5 L2608.3 193.5 L2598.3 201.9 L2571.5 203.6 L2564.8 211.9 L2554.8 213.6 L2544.7 224.3 L2558.1 218.6 L2584.9 220.3 L2594.9 227.6 L2605.0 215.3 L2615.0 210.2 L2630.1 210.2 L2631.8 193.5 L2633.4 206.9 L2628.4 223.6 L2630.1 237.0 L2623.4 253.8 L2638.4 253.8 L2648.5 267.1 L2665.2 285.6 L2682.0 290.6 L2700.4 287.2 L2692.0 298.9 L2712.1 298.9 L2732.2 295.6 L2752.2 292.2 L2769.0 283.9 L2782.4 270.5 L2799.1 275.5 L2815.8 270.5 L2822.5 267.1M2800.8 179.5 L2794.1 216.9 L2792.4 243.7 L2799.1 260.4 L2815.8 273.8 L2822.5 274.5M2817.5 237.0 L2820.9 250.4 L2815.8 247.1 L2819.2 240.4M2665.2 260.4 L2671.9 237.0 L2678.6 253.8 L2695.3 262.1 L2715.4 257.1 L2735.5 250.4 L2762.3 238.7 L2753.9 257.1 L2748.9 275.5 L2732.2 277.2 L2715.4 275.5 L2698.7 268.8 L2682.0 270.5 L2666.9 265.5 L2665.2 260.4M2742.2 181.8 L2752.2 190.2 L2745.6 195.2 L2742.2 181.8M2610.0 407.7 L2616.7 414.4 L2613.3 421.1 L2610.0 407.7M102.1 620.0 L97.1 630.0 L85.3 643.4 L77.6 653.5 L76.3 665.2 L82.0 680.2 L86.4 692.0 L87.7 703.7 L85.3 715.4 L80.3 725.4 L78.7 740.5 L75.3 753.9 L82.0 770.6 L87.7 784.0 L92.0 790.7 L93.0 802.4 L96.4 810.8 L88.7 817.5 L95.4 815.8 L103.8 827.5 L110.4 837.6 L110.4 837.6 L112.1 822.5 L117.1 819.1 L125.5 824.2 L133.9 825.8 L145.6 832.5 L156.6 837.6 L145.6 834.2 L133.9 829.2 L117.1 830.9 L115.5 840.9 L118.8 854.3 L119.8 862.7 L112.1 852.6 L109.8 840.9 L107.8 840.9 L102.1 854.3 L100.4 872.7 L105.4 886.1 L112.1 892.8 L118.8 897.8 L119.8 906.2 L115.5 912.9 L108.8 917.9 L106.4 931.3 L112.1 944.7 L117.1 958.0 L122.2 979.8 L128.9 988.2 L135.6 1001.6 L132.2 1013.3 L140.6 1021.6 L137.9 1033.3 L135.6 1045.1 L131.5 1055.1 L137.2 1064.5 L148.9 1066.8 L160.7 1071.8 L170.7 1077.9 L179.1 1080.2 L187.4 1088.6 L193.5 1095.3 L192.4 1102.0 L200.8 1108.7 L214.2 1117.0 L227.6 1120.0M130.5 1088.6 L140.6 1093.6 L145.6 1102.0 L150.6 1098.6 L142.2 1091.9 L130.5 1088.6M157.3 1096.9 L174.0 1102.0 L174.0 1105.3 L160.7 1103.6 L157.3 1096.9M2384.0 755.0 L2389.0 747.4 L2399.0 744.1 L2410.7 740.7 L2420.8 737.4 L2430.8 730.7 L2442.5 723.2 L2452.6 714.0 L2460.9 705.6 L2469.3 698.1 L2460.9 702.2 L2452.6 707.3 L2445.9 714.0 L2440.9 713.1 L2447.6 705.6 L2451.7 697.2 L2445.9 702.2 L2439.2 709.8 L2427.5 714.0 L2417.4 719.0 L2409.1 723.2 L2397.3 727.3 L2390.7 734.0 L2385.6 744.1 L2384.0 755.0M2511.1 665.4 L2517.8 658.7 L2522.9 658.7 L2517.8 664.6 L2511.1 667.1 L2511.1 665.4M2537.9 660.4 L2546.3 652.0 L2550.5 658.7 L2544.6 662.1 L2537.9 660.4M2390.7 790.0 L2393.2 800.0 L2390.7 811.8 L2384.8 818.4 L2382.3 823.5 L2381.4 829.3 L2377.3 835.2 L2373.9 846.9 L2370.6 856.9 L2365.6 861.1 L2363.9 853.6 L2362.2 848.6 L2354.7 847.7 L2347.1 844.4 L2338.8 839.4 L2332.1 833.5 L2327.9 826.0 L2328.7 818.4 L2333.8 811.8 L2341.3 805.9 L2347.1 798.4 L2353.8 790.8M2327.9 826.0 L2330.4 835.2 L2337.1 843.6 L2342.1 853.6 L2350.5 863.6 L2358.9 870.3 L2363.9 873.7 L2362.2 882.9 L2365.6 887.1 L2369.7 890.4 L2370.6 897.1 L2368.9 907.1 L2365.6 918.9 L2362.2 928.9 L2358.9 938.9 L2357.2 950.7 L2353.8 955.7 L2350.5 960.7 L2349.7 970.7 L2347.1 979.9 L2343.8 974.1 L2342.1 964.0 L2343.8 950.7 L2347.1 938.9 L2349.7 925.6 L2345.5 928.9 L2338.8 927.2 L2337.1 920.5 L2333.8 913.8 L2331.2 907.1 L2327.1 913.8 L2317.0 910.5 L2312.0 903.8 L2310.3 897.1 L2320.4 893.8 L2312.0 890.4 L2305.3 888.7 L2308.7 880.4 L2303.6 873.7 L2308.7 865.3 L2303.6 860.3 L2308.7 846.9 L2308.7 838.5M2308.7 838.5 L2305.3 840.2 L2298.6 846.9 L2293.6 856.9 L2286.9 860.3 L2295.3 867.0 L2290.2 873.7 L2295.3 883.7 L2296.9 893.8 L2300.3 903.8 L2307.0 913.8 L2313.7 923.9 L2312.0 927.2 L2302.0 922.2 L2286.9 918.9 L2285.2 915.5 L2278.5 914.7 L2270.2 922.2 L2265.1 920.5 L2263.5 910.5 L2268.5 900.4 L2271.8 890.4 L2269.3 883.7M2266.0 923.9 L2276.9 920.5 L2288.6 925.6 L2303.6 928.9 L2317.0 933.9 L2322.0 940.6 L2320.4 950.7 L2313.7 952.3 L2296.9 944.0 L2276.9 932.2M2300.3 947.3 L2318.7 955.7 L2327.1 962.4 L2328.7 970.7 L2323.7 977.4 L2303.6 967.4M2322.0 980.8 L2332.1 989.1 L2328.7 994.2 L2317.0 987.5 L2281.9 984.1M2312.0 987.5 L2317.0 994.2 L2325.4 1000.9 L2333.8 995.0 L2347.1 993.3 L2353.8 1005.9 L2363.9 1020.9 L2372.2 1034.3 L2377.3 1040.0M2370.6 900.4 L2368.9 917.2 L2363.9 930.6M2291.9 900.4 L2296.9 910.5 L2307.0 917.2M406.7 1456.5 L413.3 1454.8 L418.4 1463.2 L416.7 1471.6 L425.1 1476.6 L424.4 1493.3 L416.7 1484.9 L410.0 1471.6 L406.7 1456.5M455.2 1510.0 L463.6 1491.6 L473.6 1490.0 L473.6 1508.4 L466.9 1520.1 L455.2 1510.0M290.5 1521.8 L301.2 1506.7 L303.9 1518.4 L299.6 1528.4 L290.5 1521.8M144.6 1411.3 L151.3 1411.3 L152.3 1424.7 L146.6 1430.7 L144.6 1411.3M157.3 1147.6 L164.0 1146.9 L165.7 1153.6 L160.0 1153.6 L157.3 1147.6M212.5 1151.2 L222.6 1158.6 L223.6 1165.3 L217.6 1163.6 L212.5 1151.2M203.5 1177.7 L207.5 1187.1 L212.5 1193.8 L206.8 1192.1 L203.5 1177.7M344.7 1550.2 L351.4 1546.9 L354.8 1565.3 L348.1 1558.6 L344.7 1550.2M2373.1 1101.7 L2384.9 1096.0M2389.9 1093.3 L2398.2 1090.0M1672.0 1518.4 L1680.3 1506.7 L1693.7 1506.7 L1710.4 1515.1 L1700.4 1521.8 L1687.0 1526.8 L1677.0 1523.4 L1672.0 1518.4M1764.0 1508.4 L1774.0 1510.0M1785.8 1506.7 L1800.8 1504.4M1804.2 1505.0 L1817.6 1502.3M1757.3 1521.8 L1762.3 1535.1 L1755.6 1546.9M2367.6 1114.6 L2360.9 1127.2 L2355.9 1137.2 L2347.6 1135.6 L2344.2 1132.2 L2352.6 1128.9 L2359.3 1115.5 L2354.2 1113.8 L2347.6 1117.1 L2339.2 1121.3 L2332.5 1121.3 L2325.8 1117.1 L2320.8 1111.3M2339.2 1117.1 L2344.2 1108.8 L2347.6 1098.7 L2342.5 1095.4 L2330.8 1093.7 L2322.4 1092.0 L2316.6 1088.7M2337.5 1091.2 L2339.2 1083.7 L2345.9 1087.9 L2354.2 1089.5 L2362.6 1088.7 L2367.6 1082.0 L2372.7 1072.0 L2377.7 1065.3 L2376.0 1055.2 L2371.0 1048.5 L2364.3 1050.2 L2362.6 1058.6 L2363.4 1068.6 L2360.9 1063.6 L2359.3 1050.2 L2350.9 1050.2 L2340.9 1055.2 L2326.6 1059.4 L2322.4 1043.5 L2327.5 1051.9 L2337.5 1050.2 L2340.9 1044.3 L2349.2 1041.8 L2350.9 1033.5 L2359.3 1035.1 L2367.6 1038.5M2354.2 1008.4 L2354.2 1018.4 L2359.3 1026.8 L2371.0 1038.5M429.3 1737.9 L421.0 1756.2 L414.3 1767.9 L421.0 1769.5 L422.6 1786.2 L432.6 1784.5 L442.6 1802.8 L432.6 1787.8 L426.0 1786.2M489.2 1714.6 L495.9 1700.3 L500.9 1701.3 L497.5 1708.0 L489.2 1714.6M509.2 1769.5 L515.2 1768.9 L517.5 1781.2 L512.5 1779.5 L509.2 1769.5M545.8 1822.8 L550.8 1826.1 L552.4 1837.8 L547.4 1836.1 L545.8 1822.8M227.6 1120.0 L229.3 1131.8 L225.9 1138.5 L232.6 1140.2 L241.0 1143.6 L249.3 1155.3 L259.4 1168.7 L266.1 1182.0 L269.4 1193.8 L267.8 1207.1 L266.1 1218.9 L270.4 1222.2 L269.4 1240.6 L275.1 1252.3 L275.1 1264.0 L283.8 1275.8 L277.8 1282.4 L280.5 1284.1 L277.1 1294.2 L282.8 1307.6 L288.5 1320.9 L286.2 1334.3 L296.2 1347.7 L293.9 1371.1 L301.2 1377.8 L299.6 1391.2 L296.2 1402.9 L299.6 1404.6 L300.6 1416.3 L311.3 1429.7 L323.0 1443.1 L331.3 1448.1 L341.4 1464.9 L351.4 1484.9 L361.5 1503.3 L368.2 1518.4 L361.5 1531.8 L351.4 1545.2 L344.7 1550.2 L333.0 1552.5 L321.3 1548.5 L304.6 1542.5 L306.2 1550.2 L316.3 1561.9 L326.3 1575.3 L328.0 1590.0 L327.8 1586.5 L336.1 1594.8 L344.4 1599.8 L349.4 1608.1 L357.8 1612.5 L362.7 1623.1 L367.7 1631.4 L379.4 1628.1 L387.7 1630.4 L396.0 1622.4 L394.4 1636.4 L397.7 1646.4 L406.0 1656.4 L414.3 1667.0 L429.3 1677.0 L434.3 1689.7 L437.6 1701.3 L436.6 1713.0 L437.6 1726.3 L432.6 1742.9 L427.6 1756.2 L426.0 1764.5 L432.6 1774.5 L440.0 1782.8 L438.6 1787.8 L447.6 1790.2 L452.6 1799.5 L464.2 1812.8 L479.2 1826.1 L489.2 1841.1 L497.5 1854.4 L512.5 1866.0 L517.5 1879.4 L520.8 1891.0 L521.8 1906.0 L525.8 1914.3 L532.5 1915.3 L542.5 1911.0 L552.4 1904.3 L560.8 1901.0 L565.7 1887.7 L562.4 1876.0 L552.4 1869.4 L552.4 1859.4 L545.8 1844.4 L535.8 1829.4 L525.8 1819.4 L522.5 1827.8 L517.5 1832.8 L514.2 1827.8 L507.5 1824.4 L502.5 1812.8 L501.9 1799.5 L507.5 1786.2 L509.2 1776.2 L499.2 1756.2 L495.9 1736.2 L487.5 1727.9 L484.2 1713.0 L487.5 1693.0 L484.2 1676.3 L480.9 1656.4 L470.9 1643.1 L465.9 1646.4 L459.3 1633.1 L460.9 1626.4 L450.9 1613.1 L449.3 1596.5 L441.8 1590.0 L438.4 1585.3 L430.1 1572.0 L433.4 1558.6 L430.1 1545.2 L431.1 1534.5 L422.4 1525.1 L418.4 1508.4 L413.3 1505.0 L411.7 1496.7 L405.0 1495.0 L403.3 1479.9 L396.6 1464.9 L388.2 1453.1 L379.9 1438.1 L371.5 1429.7 L364.8 1418.0 L361.5 1404.6 L366.5 1384.5 L366.5 1357.8 L363.1 1342.7 L368.2 1327.6 L376.5 1310.9 L371.5 1295.8 L371.5 1295.8 L384.9 1307.6 L396.6 1320.9 L406.7 1329.3 L415.0 1329.3 L418.4 1324.3 L431.8 1336.0 L433.4 1346.0 L445.1 1352.7 L460.2 1362.8 L458.5 1369.5 L453.5 1374.5 L450.2 1389.6 L455.2 1404.6 L460.2 1421.3 L461.9 1438.1 L466.9 1454.8 L471.9 1471.6 L471.2 1483.3 L477.9 1488.3 L476.9 1505.0 L487.0 1521.8 L495.3 1541.8 L507.1 1553.6 L515.4 1572.0 L523.8 1585.3 L535.5 1590.0 L545.8 1591.5 L554.1 1594.8 L547.4 1603.1 L545.8 1616.4 L549.1 1629.8 L559.1 1641.4 L577.4 1649.7 L578.4 1661.4 L582.4 1673.0 L599.0 1677.0 L609.0 1691.3 L610.7 1703.0 L615.0 1709.6 L605.7 1709.6 L594.0 1721.3 L593.0 1739.6 L599.0 1749.6 L609.0 1750.2 L621.7 1745.6 L615.7 1756.2 L609.0 1759.5 L625.6 1758.9 L627.3 1767.9 L645.6 1782.8 L663.9 1794.5 L650.6 1797.8 L662.3 1812.8 L662.3 1822.8 L675.6 1832.8 L689.5 1837.8 L688.9 1846.1 L675.6 1836.1 L708.8 1869.4 L718.8 1886.0 L728.8 1904.3 L737.1 1916.0 L742.1 1929.3 L752.8 1942.6M1288.5 1709.6 L1279.2 1729.6 L1284.2 1759.5 L1290.9 1776.2 L1298.5 1789.5M1289.2 1709.6 L1270.9 1709.6 L1265.9 1698.0 L1284.2 1709.6M1295.9 1684.7 L1285.9 1674.7 L1299.2 1671.4 L1305.8 1676.3M1312.5 1666.4 L1302.5 1661.4 L1302.5 1654.7 L1315.8 1653.1 L1319.2 1661.4M1322.5 1653.1 L1324.1 1639.7 L1332.5 1643.1 L1345.8 1641.4M1345.8 1636.4 L1334.1 1619.8 L1344.1 1624.8 L1352.4 1623.1 L1367.4 1625.8M1430.6 1578.2 L1425.6 1568.2 L1420.7 1558.2 L1429.0 1554.9 L1435.6 1554.9 L1434.0 1566.5 L1444.0 1566.5 L1448.9 1569.9M1578.7 1554.9 L1585.4 1548.2 L1593.7 1545.9 L1598.7 1551.6 L1608.7 1551.6 L1612.0 1559.9M1587.1 1558.2 L1597.0 1559.2 L1600.4 1564.9 L1595.4 1568.2 L1587.1 1563.2 L1587.1 1558.2M2209.0 1543.2 L2222.3 1553.2 L2227.3 1559.9 L2219.0 1546.6 L2209.0 1543.2M2222.3 1566.5 L2232.3 1589.8 L2248.9 1616.4 L2262.3 1634.7M2278.9 1752.9 L2272.2 1769.5 L2263.9 1782.8M2257.3 1789.5 L2250.6 1792.8M2244.0 1797.8 L2237.3 1801.1M2222.3 1801.1 L2225.6 1807.8M2212.3 1807.8 L2209.0 1812.8M2202.4 1816.1 L2199.0 1818.4M1756.4 1521.6 L1761.4 1533.2 L1755.7 1546.6M2333.8 1652.4 L2350.4 1661.4 L2365.4 1653.1 L2380.4 1646.4 L2395.4 1641.4 L2393.7 1636.4 L2375.4 1641.4 L2358.8 1641.4 L2353.8 1651.4 L2340.5 1651.4 L2333.8 1652.4M2390.4 1624.8 L2402.0 1621.4 L2418.7 1623.1M2347.1 1904.3 L2367.1 1912.0M2389.9 1624.8 L2399.8 1622.4 L2413.1 1621.4 L2426.5 1631.4 L2436.4 1636.4 L2444.8 1639.7 L2449.8 1650.4 L2443.8 1659.7 L2446.4 1676.3 L2443.1 1680.3 L2433.1 1674.7 L2439.8 1664.7 L2438.1 1646.4 L2433.1 1639.1 L2423.1 1632.4 L2411.5 1624.8 L2396.5 1626.4 L2389.9 1624.8M2398.2 1735.6 L2408.2 1734.6 L2414.8 1742.9 L2423.1 1754.6 L2433.1 1762.9 L2436.4 1774.5 L2428.1 1784.5 L2421.5 1791.2 L2413.1 1781.2 L2403.2 1781.2 L2393.2 1774.5 L2401.5 1771.2 L2399.8 1761.2 L2405.8 1746.2 L2398.2 1735.6M2424.8 1794.5 L2433.1 1787.8 L2443.1 1786.2 L2451.4 1794.5 L2458.1 1809.5 L2456.4 1819.4 L2444.8 1822.1 L2441.4 1812.8 L2433.1 1802.8 L2424.8 1794.5M2478.0 1693.0 L2486.4 1698.0 L2503.0 1701.3 L2518.0 1709.6 L2521.3 1722.9 L2522.3 1734.6 L2513.0 1735.6 L2523.0 1742.9 L2516.3 1734.6 L2518.0 1717.9 L2513.0 1711.3 L2499.7 1706.3 L2486.4 1701.3 L2476.4 1703.0 L2478.0 1693.0M2438.1 1736.2 L2446.4 1732.3 L2454.7 1732.9 L2449.8 1737.9 L2441.4 1739.6 L2438.1 1736.2M2547.9 1734.6 L2552.9 1733.6 L2562.9 1746.2 L2574.6 1756.2 L2582.9 1761.2 L2571.2 1766.2 L2569.6 1761.2 L2561.2 1751.2 L2551.3 1741.2 L2547.9 1734.6M2626.1 1752.9 L2629.5 1749.6 L2633.8 1754.6 L2630.1 1762.9 L2626.1 1761.2 L2626.1 1752.9M2546.3 1802.8 L2556.2 1804.5 L2566.2 1809.5 L2572.9 1811.1 L2562.9 1812.1 L2547.9 1807.8 L2546.3 1802.8M2587.9 1791.2 L2592.9 1794.5 L2601.2 1806.1 L2609.5 1817.8 L2611.2 1821.1 L2621.1 1822.8 L2627.8 1827.8 L2629.5 1836.1 L2619.5 1827.8 L2611.2 1824.4 L2601.2 1822.8 L2609.5 1819.4 L2599.5 1809.5 L2591.2 1799.5 L2587.9 1791.2M2659.4 1828.8 L2666.1 1829.4 L2679.4 1832.1 L2687.7 1827.8 L2694.4 1839.4 L2689.4 1849.4 L2682.7 1859.4 L2672.7 1869.4 L2679.4 1857.7 L2686.0 1846.1 L2687.7 1837.8 L2679.4 1836.1 L2664.4 1836.1 L2660.1 1831.1 L2659.4 1828.8M2734.3 1834.4 L2749.3 1832.8 L2760.9 1835.4 L2759.3 1838.8 L2747.6 1836.8 L2736.0 1839.4 L2734.3 1834.4M2792.5 1857.7 L2805.8 1857.7 L2799.2 1864.4 L2794.2 1862.7 L2792.5 1857.7M2809.2 1845.4 L2817.5 1846.1 L2819.2 1851.1 L2809.2 1845.4M2727.6 1927.6 L2734.3 1920.9 L2749.3 1916.0 L2759.3 1909.3 L2764.2 1904.3 L2765.2 1916.0 L2760.9 1927.6 L2745.9 1934.3 L2731.0 1940.9 L2727.6 1932.6 L2727.6 1927.6M2755.9 1891.0 L2760.9 1886.7 L2766.6 1890.0 L2759.9 1896.0 L2755.9 1891.0M2115.8 1942.6 L2132.5 1932.6 L2165.7 1920.9 L2185.7 1909.3 L2199.0 1905.3 L2225.6 1904.3 L2245.6 1901.0 L2253.9 1906.0 L2265.6 1902.0 L2283.9 1896.7 L2302.2 1904.3 L2318.8 1901.0 L2335.5 1904.3 L2348.8 1906.0 L2349.9 1909.3 L2359.9 1917.6 L2376.5 1925.3 L2393.2 1922.6 L2409.8 1921.9 L2426.5 1925.9 L2446.4 1930.9 L2459.7 1935.9 L2473.1 1942.6M2346.6 1903.3 L2368.2 1912.0M2406.5 1911.0 L2426.5 1906.0 L2439.8 1912.6 L2449.8 1916.0 L2463.1 1924.3 L2478.0 1927.6 L2476.4 1935.9 L2463.1 1932.6 L2451.4 1924.3 L2439.8 1916.0 L2426.5 1911.0 L2409.8 1912.6 L2406.5 1911.0M2481.4 1937.6 L2496.3 1941.6M314.2 223.6 L318.5 230.0 L318.0 238.5 L316.4 245.0 L318.5 251.4 L315.3 257.8 L311.0 263.2 L307.8 270.7 L305.7 278.2 L302.5 285.7M316.9 221.4 L320.1 225.7 L321.2 234.3 L319.1 239.6 L321.2 245.0 L322.3 251.4M299.3 266.4 L297.1 272.8 L301.4 277.1 L303.5 270.7 L300.3 281.4 L297.1 285.7 L292.8 288.9M278.9 285.7 L284.3 287.8 L286.4 292.1 L282.1 291.0M300.3 203.2 L303.5 210.7 L301.4 216.1 L305.7 220.3 L310.0 217.1 L306.7 210.7 L313.2 205.3 L315.3 209.6 L311.0 212.8M297.1 210.7 L299.3 217.1 L303.5 221.4M284.3 181.8 L284.8 191.4 L286.4 201.1 L289.1 204.3 L290.1 191.4 L289.6 181.8 L286.9 181.8 L286.9 202.1M308.9 181.8 L313.2 183.9 L317.5 186.1 L314.2 181.8M1262.6 1942.6 L1265.2 1919.3 L1269.2 1896.0 L1274.2 1872.7 L1280.9 1849.4 L1289.2 1829.4 L1297.5 1812.8 L1300.9 1799.5 L1298.5 1789.5 L1297.5 1779.5 L1292.5 1752.9 L1288.5 1726.3 L1288.5 1709.6 L1295.9 1693.0 L1305.8 1676.3 L1319.2 1661.4 L1332.5 1651.4 L1345.8 1641.4 L1359.1 1633.1 L1369.1 1626.4 L1385.7 1618.1 L1402.4 1608.1 L1415.7 1594.8 L1425.6 1588.2 L1437.3 1578.2 L1452.3 1569.9 L1468.9 1561.5 L1480.6 1558.2 L1492.2 1553.2 L1515.5 1550.9 L1532.1 1554.9 L1548.8 1560.5 L1572.1 1563.2 L1582.1 1559.9 L1595.4 1564.9 L1602.0 1558.2 L1612.0 1561.5 L1620.0 1563.2 L1606.7 1551.6 L1615.0 1561.5 L1626.6 1563.2 L1628.3 1573.2 L1636.6 1578.2 L1658.2 1586.5 L1666.6 1578.2 L1678.2 1574.8 L1688.2 1586.5 L1696.5 1574.8 L1694.8 1561.5 L1703.2 1563.2 L1709.8 1569.9 L1729.8 1578.2 L1736.4 1589.8 L1743.1 1583.2 L1748.1 1586.5 L1754.7 1578.2 L1746.4 1569.9 L1731.5 1564.9 L1718.1 1556.5 L1714.8 1549.9 L1724.8 1543.2 L1731.5 1539.9 L1731.5 1531.6 L1726.5 1526.6 L1714.8 1531.6 L1706.5 1529.3 L1709.8 1521.6 L1717.1 1515.1 L1720.5 1511.7 L1732.2 1505.0 L1747.3 1501.7 L1755.6 1498.3 L1767.3 1500.0 L1780.7 1498.3 L1794.1 1496.7 L1797.5 1479.9 L1800.8 1476.6 L1805.8 1484.9 L1814.2 1500.0 L1824.2 1498.3 L1830.9 1493.3 L1844.3 1491.6 L1849.3 1481.6 L1857.7 1479.9 L1856.0 1490.0 L1867.8 1488.3 L1877.8 1484.9 L1887.8 1479.9 L1901.2 1481.6 L1894.5 1486.6 L1907.9 1490.0 L1921.3 1496.7 L1931.3 1488.3 L1929.7 1496.7 L1938.0 1505.0 L1948.1 1515.1 L1951.4 1523.4 L1964.8 1521.8 L1981.6 1515.1 L1991.6 1508.4 L2001.6 1503.3 L2005.0 1491.6 L2018.4 1488.3 L2031.8 1493.3 L2045.1 1500.0 L2055.2 1511.7 L2065.2 1521.8 L2075.3 1526.8 L2092.0 1538.5 L2102.0 1546.9 L2108.7 1558.6 L2110.4 1575.3 L2108.7 1590.0 L2107.5 1596.5 L2105.8 1616.4 L2110.8 1624.8 L2117.5 1626.4 L2119.2 1616.4 L2114.2 1609.8 L2122.5 1613.1 L2130.8 1614.8 L2125.8 1626.4 L2122.5 1636.4 L2115.8 1640.4 L2125.8 1649.7 L2135.8 1663.0 L2145.8 1673.0 L2154.1 1676.3 L2152.4 1668.0 L2160.8 1667.0 L2161.8 1679.7 L2162.4 1693.0 L2155.8 1698.0 L2162.4 1701.3 L2170.7 1696.3 L2169.1 1688.0 L2174.1 1683.0 L2172.4 1696.3 L2177.4 1706.3 L2184.1 1717.9 L2194.0 1726.3 L2204.0 1729.6 L2211.7 1731.3 L2215.7 1739.6 L2225.6 1751.2 L2232.3 1761.2 L2229.0 1767.9 L2234.0 1772.9 L2242.3 1769.5 L2252.3 1766.2 L2263.9 1759.5 L2272.2 1752.9 L2278.9 1751.2 L2273.9 1746.2 L2275.6 1732.9 L2280.6 1719.6 L2278.9 1699.6 L2278.2 1679.7 L2275.6 1663.0 L2268.9 1646.4 L2260.6 1631.4 L2248.9 1613.1 L2237.3 1594.8 L2227.3 1579.8 L2222.3 1566.5 L2215.7 1554.9 L2205.7 1529.9 L2192.4 1510.0 L2179.1 1491.6 L2170.7 1480.0 L2165.6 1464.9 L2155.6 1441.4 L2148.9 1424.7 L2148.9 1404.6 L2152.2 1391.2 L2155.6 1374.5 L2158.9 1357.8 L2165.6 1344.4 L2172.3 1331.0 L2182.4 1320.9 L2169.0 1320.9 L2175.7 1310.9 L2189.1 1307.6 L2202.4 1297.5 L2212.5 1287.5 L2222.5 1277.4 L2229.2 1267.4 L2239.3 1257.3 L2237.1 1250.0 L2239.6 1241.0 L2243.8 1230.9 L2248.8 1220.9 L2255.5 1212.5 L2263.9 1205.0 L2272.2 1200.8 L2290.7 1197.5 L2295.7 1195.0 L2291.5 1194.1 L2290.7 1181.6 L2294.8 1185.8 L2296.5 1177.4 L2300.7 1169.0 L2307.4 1160.7 L2314.9 1153.1 L2312.4 1150.6 L2309.9 1141.4 L2314.1 1149.8 L2317.4 1147.3 L2324.1 1138.9 L2339.2 1135.6 L2355.9 1137.2M2374.3 1101.2 L2382.7 1095.4M2387.7 1092.0 L2392.7 1088.7 L2396.1 1083.7 L2394.4 1070.3 L2389.4 1058.6 L2381.0 1046.9 L2371.0 1033.5 L2377.3 1040.0 L2372.2 1034.3 L2363.9 1020.9 L2353.8 1005.9 L2347.1 993.3 L2347.1 979.9 L2349.7 970.7 L2350.5 960.7 L2353.8 955.7 L2357.2 950.7 L2358.9 938.9 L2362.2 928.9 L2365.6 918.9 L2368.9 907.1 L2370.6 897.1 L2369.7 890.4 L2365.6 887.1 L2362.2 882.9 L2363.9 873.7 L2365.6 861.1 L2370.6 856.9 L2373.9 846.9 L2377.3 835.2 L2381.4 829.3 L2382.3 823.5 L2384.8 818.4 L2390.7 811.8 L2393.2 800.0 L2390.7 790.0 L2391.5 782.6 L2390.7 770.9 L2387.3 764.2 L2384.0 759.1 L2375.6 763.3 L2372.2 759.1 L2373.1 752.4 L2377.3 744.1 L2382.3 734.0 L2381.4 724.8 L2377.3 716.5 L2373.9 713.1 L2378.9 719.0 L2380.6 727.3 L2384.0 734.0 L2389.0 725.7 L2394.8 719.8 L2404.0 711.4 L2414.1 703.9 L2420.8 698.1 L2437.5 693.0 L2444.2 689.7 L2452.6 687.2 L2464.3 682.2 L2471.0 679.7 L2481.0 673.8 L2482.7 667.1 L2481.0 658.7 L2482.7 650.4 L2488.6 648.7 L2487.7 653.7 L2494.4 658.7 L2504.4 653.7 L2512.8 643.7 L2514.5 651.2 L2521.2 645.3 L2531.2 639.5 L2542.9 633.6 L2542.1 626.9 L2537.9 621.1 L2529.6 617.7 L2524.5 613.6 L2531.2 614.4 L2539.6 617.7 L2542.9 623.6 L2537.9 629.4 L2529.6 634.5 L2519.5 634.5 L2514.5 628.6 L2507.8 626.1 L2502.8 620.2 L2494.4 613.6 L2484.4 611.0 L2487.7 603.5 L2491.1 595.1 L2496.1 587.6 L2486.0 583.4 L2481.0 576.7 L2485.2 568.4 L2484.4 560.0 L2484.5 561.7 L2487.8 544.9 L2494.5 528.2 L2491.2 521.5 L2497.9 511.5 L2509.6 501.4 L2521.3 494.7 L2533.0 488.0 L2531.3 471.3 L2534.7 452.9 L2538.0 462.9 L2549.8 471.3 L2548.1 454.6 L2561.5 457.9 L2568.2 444.5 L2581.6 434.5 L2594.9 421.1 L2601.6 411.1 L2596.6 399.3 L2586.6 392.7 L2598.3 392.7 L2615.0 387.6 L2631.8 374.2 L2625.1 364.2 L2638.4 367.6 L2655.2 347.5 L2671.9 327.4 L2675.3 310.7 L2688.7 307.3 L2682.0 317.3 L2675.3 337.4 L2682.0 347.5 L2695.3 342.4 L2715.4 330.7 L2737.2 322.4 L2722.1 332.4 L2708.7 342.4 L2715.4 354.2 L2702.0 340.8 L2693.7 347.5 L2678.6 364.2 L2665.2 384.3 L2653.5 404.4 L2648.5 417.8 L2651.8 437.8 L2663.6 456.2 L2675.3 452.9 L2685.3 462.9 L2698.7 457.9 L2705.4 444.5 L2715.4 424.4 L2722.1 404.4 L2720.4 389.3 L2728.8 377.6 L2745.6 372.6 L2748.9 360.9 L2765.6 347.5 L2782.4 330.7 L2802.4 314.0 L2822.5 297.3M1709.8 1521.6 L1719.8 1516.6 L1733.1 1510.0 L1746.4 1505.0 L1756.4 1498.3 L1766.4 1500.6 L1786.4 1496.6 L1796.3 1495.0 L1799.7 1481.7 L1804.7 1490.0 L1813.0 1496.6 L1826.3 1493.3 L1833.0 1486.7 L1844.6 1485.0 L1852.9 1480.0M1737.2 1590.0 L1747.3 1582.0 L1754.0 1575.3 L1743.9 1568.6 L1727.2 1558.6 L1713.8 1551.9 L1720.5 1541.8 L1733.9 1535.1 L1728.9 1525.1 L1717.1 1531.8 L1707.1 1525.1 L1710.4 1516.7 L1717.1 1515.1"/>
<path fill="#000" d="M2478.0 1693.0 L2486.4 1698.0 L2503.0 1701.3 L2518.0 1709.6 L2521.3 1722.9 L2522.3 1734.6 L2513.0 1735.6 L2523.0 1742.9 L2516.3 1734.6 L2518.0 1717.9 L2513.0 1711.3 L2499.7 1706.3 L2486.4 1701.3 L2476.4 1703.0ZM2438.1 1736.2 L2446.4 1732.3 L2454.7 1732.9 L2449.8 1737.9 L2441.4 1739.6ZM2547.9 1734.6 L2552.9 1733.6 L2562.9 1746.2 L2574.6 1756.2 L2582.9 1761.2 L2571.2 1766.2 L2569.6 1761.2 L2561.2 1751.2 L2551.3 1741.2ZM2626.1 1752.9 L2629.5 1749.6 L2633.8 1754.6 L2630.1 1762.9 L2626.1 1761.2ZM2546.3 1802.8 L2556.2 1804.5 L2566.2 1809.5 L2572.9 1811.1 L2562.9 1812.1 L2547.9 1807.8ZM2587.9 1791.2 L2592.9 1794.5 L2601.2 1806.1 L2609.5 1817.8 L2611.2 1821.1 L2621.1 1822.8 L2627.8 1827.8 L2629.5 1836.1 L2619.5 1827.8 L2611.2 1824.4 L2601.2 1822.8 L2609.5 1819.4 L2599.5 1809.5 L2591.2 1799.5ZM2659.4 1828.8 L2666.1 1829.4 L2679.4 1832.1 L2687.7 1827.8 L2694.4 1839.4 L2689.4 1849.4 L2682.7 1859.4 L2672.7 1869.4 L2679.4 1857.7 L2686.0 1846.1 L2687.7 1837.8 L2679.4 1836.1 L2664.4 1836.1 L2660.1 1831.1ZM2734.3 1834.4 L2749.3 1832.8 L2760.9 1835.4 L2759.3 1838.8 L2747.6 1836.8 L2736.0 1839.4ZM2792.5 1857.7 L2805.8 1857.7 L2799.2 1864.4 L2794.2 1862.7ZM2809.2 1845.4 L2817.5 1846.1 L2819.2 1851.1ZM2755.9 1891.0 L2760.9 1886.7 L2766.6 1890.0 L2759.9 1896.0ZM2406.5 1911.0 L2426.5 1906.0 L2439.8 1912.6 L2449.8 1916.0 L2463.1 1924.3 L2478.0 1927.6 L2476.4 1935.9 L2463.1 1932.6 L2451.4 1924.3 L2439.8 1916.0 L2426.5 1911.0 L2409.8 1912.6Z"/>
<path fill="none" stroke="#000" stroke-width="4.3" stroke-dasharray="6.4 4.6" d="M321.3 189.5 L368.2 206.9 L435.1 228.7 L502.0 249.7 L542.2 259.8 L580.7 268.8 L656.0 287.2M247.7 345.1 L256.0 350.8 L257.7 364.2 L257.0 380.9 L267.8 388.3 L279.5 393.3 L291.2 391.0 L302.9 393.7 L314.6 399.3 L321.3 406.0 L338.0 408.4 L358.1 410.4 L374.9 408.4 L394.9 410.4 L406.7 412.1 L413.3 410.4 L435.1 416.1 L468.6 426.1 L498.7 435.2M542.2 259.8 L535.5 283.9 L528.8 310.7 L520.4 340.8 L512.1 370.9 L505.4 394.3 L499.4 414.4 L498.7 435.2 L502.0 444.5 L510.4 461.3 L495.3 481.3 L482.0 501.4 L466.9 514.8 L461.2 524.9 L463.6 534.9 L469.6 541.6 L463.6 556.7 L456.9 571.7 L451.8 585.1 L446.8 605.2 L441.8 625.3 L435.1 650.0M580.7 268.8 L574.0 290.6 L569.0 310.7 L565.6 327.4 L572.3 347.5 L573.0 364.2 L584.0 377.6 L589.1 394.3 L599.1 414.4 L614.2 425.1 L607.5 441.2 L600.8 457.9 L599.1 471.3 L590.7 483.0 L595.8 491.4 L607.5 489.7 L614.2 484.7 L619.2 491.4 L620.9 504.8 L625.9 521.5 L627.6 534.9 L637.6 548.3 L642.6 570.0 L652.7 568.4 L669.4 568.4 L689.5 573.4 L702.9 575.7 L722.9 576.7M820.0 566.7 L769.8 558.3 L736.3 553.3 L728.0 555.0 L722.9 576.7 L719.6 598.5 L714.6 625.3 L709.6 650.0M634.2 181.8 L644.3 186.8 L649.3 200.2 L648.6 220.3 L644.3 237.0 L640.9 248.7 L646.0 263.8 L652.7 275.5 L657.7 287.2M656.0 287.2 L736.3 305.6 L820.0 322.4 L800.0 319.0 L816.7 322.4 L927.2 343.5 L1054.4 359.2 L1159.8 365.9 L1325.5 373.6 L1409.1 374.9 L1409.1 374.9 L1409.8 350.8 L1419.2 354.2 L1422.5 377.6 L1427.6 387.6 L1442.6 391.6 L1456.0 396.0 L1467.7 401.7 L1482.8 396.0 L1496.2 396.0 L1509.6 401.7 L1519.6 414.4 L1533.0 411.1 L1546.4 421.1 L1559.8 427.1 L1573.1 421.1 L1583.2 416.1 L1603.3 421.8 L1620.0 422.8M843.5 180.1 L836.8 216.9 L828.4 260.4 L821.8 293.9 L816.7 322.4M1164.1 180.1 L1163.1 250.4 L1161.5 317.3 L1159.8 365.9M1408.5 180.1 L1409.8 250.4 L1410.5 317.3 L1409.8 350.8M1054.4 359.2 L1049.3 404.4 L1044.3 451.2 L1039.3 498.1 L1036.0 539.9 L1032.6 568.4 L1028.3 598.5 L1024.2 625.3 L1021.6 650.0M1036.0 539.9 L1101.2 548.3 L1168.2 553.3 L1235.1 556.7 L1302.0 559.0 L1348.9 559.0M820.0 566.7 L800.0 566.0 L866.9 576.7 L933.9 586.8 L1000.8 595.1 L1028.3 598.5M1325.5 373.6 L1328.8 394.3 L1329.5 417.8 L1332.2 434.5 L1337.2 451.2 L1339.5 471.3 L1341.2 494.7 L1342.2 518.2 L1347.2 534.9 L1350.6 548.3 L1350.6 559.0 L1348.9 568.4 L1338.9 577.7 L1342.2 588.4 L1353.9 596.8 L1354.6 618.6 L1353.9 650.0M1539.7 509.8 L1531.3 514.8 L1529.6 528.2 L1531.3 548.3 L1516.2 556.7 L1507.9 568.4 L1506.2 578.4 L1514.6 588.4 L1511.2 605.2 L1512.9 625.3 L1519.6 635.3 L1536.3 647.0 L1546.4 650.0M2118.7 642.1 L2121.0 650.4 L2124.8 660.9 L2132.3 668.4 L2136.8 672.2M1977.0 683.7 L1976.1 700.4 L1973.6 715.5M1973.6 733.9 L1956.9 735.6 L1951.9 742.2 L1953.6 752.3M2011.0 200.2 L2016.7 233.7 L2023.4 267.1 L2031.8 310.7 L2040.1 350.8 L2048.5 384.3 L2050.2 404.4 L2060.2 422.8 L2075.3 437.8 L2092.0 457.9 L2112.1 461.3 L2142.2 461.9 L2155.6 466.3 L2169.0 476.3 L2179.0 471.3 L2190.7 484.7 L2202.4 490.7 L2219.2 486.4 L2235.9 484.7 L2252.7 471.3 L2269.4 463.9 L2286.1 464.6 L2287.8 481.3M1540.2 510.7 L1530.1 512.4 L1531.8 547.6 L1513.4 560.9 L1506.7 576.0 L1515.1 594.4 L1513.4 624.5 L1530.1 644.6 L1546.9 651.3 L1560.2 664.7 L1577.0 674.7 L1582.0 698.2 L1588.7 718.2 L1588.7 738.3 L1597.1 748.4 L1610.4 755.1 L1615.5 763.4 L1630.5 780.2 L1638.9 795.2 L1633.9 812.0 L1620.5 825.3 L1603.8 830.0M1500.0 706.5 L1582.0 703.2M1615.5 761.8 L1667.3 758.4 L1744.3 752.4M1597.1 507.4 L1617.1 524.1 L1640.6 530.8 L1677.4 542.5 L1700.8 544.2 L1720.9 557.6 L1724.2 574.3 L1734.3 591.1M1759.4 801.9 L1761.1 830.0M1794.5 791.9 L1881.6 781.8 L1945.1 773.5M1881.6 781.8 L1888.2 830.0M2070.7 736.7 L2079.0 781.8 L2089.1 830.0M2102.4 708.2 L2109.1 728.3 L2169.4 714.9 L2236.3 698.2 L2296.6 685.4 L2310.0 688.1 L2320.0 698.2M2338.0 486.4 L2346.4 518.2 L2356.4 551.6 L2369.8 581.8 L2376.5 615.2M2416.7 462.9 L2411.6 484.7 L2406.6 508.1 L2408.3 534.9 L2403.3 568.4 L2406.6 598.5 L2416.7 608.5M2497.9 282.2 L2487.8 277.2 L2489.5 267.1 L2486.2 250.4 L2494.5 243.7 L2511.3 238.7 L2521.3 242.0 L2538.0 233.7 L2544.7 224.3M2414.2 462.9 L2420.9 488.0 L2405.8 509.8 L2408.2 534.9 L2404.8 568.4 L2409.2 598.5 L2412.5 606.9M2430.9 444.5 L2441.0 471.3 L2451.0 504.8 L2461.1 534.9 L2477.8 556.7M2380.7 650.0 L2380.7 615.2 L2414.2 606.9 L2464.4 593.5 L2477.8 578.4M2420.9 650.0 L2474.4 633.6 L2484.5 650.0M118.8 568.4 L167.3 585.1 L234.3 608.5 L264.4 620.0 L296.2 631.0 L428.4 669.5 L558.9 703.7 L689.5 730.4M296.2 631.0 L244.3 804.1 L431.8 1112.0 L431.8 1120.0M443.5 620.0 L428.4 669.5M558.9 703.7 L548.9 753.9 L535.5 820.8 L522.1 887.8 L505.4 954.7 L492.0 1001.6 L482.0 1045.1 L475.3 1053.4 L466.9 1055.1 L458.5 1045.7 L448.5 1045.1 L441.8 1051.8 L438.4 1088.6 L431.8 1112.0M492.0 1001.6 L602.4 1026.7 L729.6 1048.4 L820.0 1062.5M716.2 620.0 L689.5 730.4 L682.8 792.4 L769.8 809.1 L820.0 815.8M771.5 809.1 L756.4 904.5 L741.3 988.2 L729.6 1048.4 L719.6 1120.0M1024.9 620.0 L1020.9 670.2 L1015.9 718.7 L1009.2 777.3 L1000.8 839.2M1015.9 718.7 L1101.2 727.1 L1184.9 733.1 L1263.6 736.5 L1275.3 745.5 L1285.3 747.2 L1298.7 744.5 L1312.1 745.5 L1325.5 752.2 L1338.9 757.2 L1345.6 765.6M800.0 812.4 L900.4 827.5 L1000.8 839.2 L1093.9 849.3 L1091.2 907.8 L1084.5 988.2 L1077.8 1055.1 L1074.4 1091.9M1091.2 908.5 L1201.6 917.2 L1302.0 921.2 L1400.8 921.9M800.0 1060.1 L900.4 1075.2 L1024.2 1088.6 L1074.4 1091.9 L1201.6 1102.0 L1335.5 1105.3 L1437.6 1105.3M1024.2 1088.6 L1023.6 1120.0M1353.9 620.0 L1353.9 707.0M1348.9 708.7 L1469.4 707.7 L1579.8 703.7M1348.9 708.7 L1347.2 717.1 L1353.9 730.4 L1343.9 753.9 L1345.6 765.6 L1355.6 774.0 L1358.9 790.7 L1367.3 802.4 L1369.0 824.2 L1377.3 834.2 L1380.7 854.3 L1379.0 874.4 L1385.7 886.1 L1389.1 904.5 L1399.1 914.5 L1400.8 921.9 L1412.5 929.6 L1422.5 932.9 L1415.8 948.0 L1425.9 964.7 L1437.6 974.8 L1438.6 1038.4 L1438.6 1105.3 L1439.3 1120.0M1385.7 886.1 L1469.4 882.7 L1569.8 879.4 L1584.9 892.8M1512.9 620.0 L1516.2 633.4 L1543.0 650.1 L1556.4 663.5 L1576.5 673.6 L1583.2 703.7 L1589.9 717.1 L1591.6 737.1 L1599.9 748.9 L1611.6 753.9 L1616.7 763.9 L1620.0 767.3M1620.0 824.2 L1603.3 829.2 L1598.2 840.9 L1606.6 854.3 L1599.9 871.0 L1584.9 892.8 L1583.2 911.2 L1589.9 931.3 L1603.3 944.7 L1620.0 961.4M1600.0 748.9 L1610.0 752.2 L1615.1 762.2 L1743.9 752.2M1615.1 762.2 L1626.8 774.0 L1638.5 787.3 L1636.8 807.4 L1623.4 820.8 L1600.0 829.2M1600.0 941.3 L1613.4 954.7 L1623.4 971.4 L1630.1 981.5 L1650.2 981.5 L1651.9 988.2 L1643.5 1018.3 L1653.6 1031.7 L1680.3 1048.4 L1688.7 1065.1 L1693.7 1085.2 L1707.1 1095.3 L1707.1 1120.0M1757.3 802.4 L1764.0 854.3 L1769.0 904.5 L1772.4 938.0 L1767.3 954.7 L1775.7 971.4 L1774.0 988.2 L1757.3 1011.6 L1755.6 1038.4 L1750.6 1058.4 L1737.2 1068.5 L1740.6 1085.2 L1710.4 1081.9 L1700.4 1091.9M1792.4 792.4 L1882.8 782.3 L1944.7 774.0M1882.8 782.3 L1891.2 854.3 L1901.2 941.3M1755.6 1038.4 L1774.0 1030.0 L1787.4 1028.3 L1800.8 1033.3 L1814.2 1021.6 L1824.2 1026.7 L1837.6 1008.2 L1851.0 1018.3 L1857.7 1014.9 L1867.8 994.9 L1877.8 969.8 L1891.2 969.8 L1906.2 958.0 L1901.2 941.3 L1921.3 941.3 L1934.7 954.7 L1951.4 958.0 L1961.5 962.1 L1974.9 961.4 L1996.6 953.0 L2015.0 968.1 L2021.7 968.1 L2031.8 934.6 L2045.1 931.3 L2048.5 914.5 L2061.9 901.1 L2082.0 884.4 L2085.3 834.2 L2082.0 822.5M2071.9 737.1 L2082.0 822.5 L2098.7 872.7 L2202.4 852.6 L2326.3 814.1M2015.0 968.1 L2016.7 984.8 L2035.1 1004.9 L2051.8 1018.3 L2061.9 1030.0 L2075.3 1033.3 L2088.7 1025.0 L2108.7 1018.3 L2132.2 1004.9 L2132.2 988.2 L2148.9 948.0 L2152.2 932.9 L2169.0 938.0 L2179.0 914.5 L2202.4 887.8 L2202.4 867.7 L2202.4 854.3M2147.2 862.7 L2152.2 891.1 L2175.7 867.7 L2202.4 854.3 L2222.5 854.3 L2232.6 871.0 L2229.2 881.1 L2249.3 877.7 L2272.7 887.8M1764.0 1108.7 L1867.8 1098.6 L1981.6 1085.2 L2075.3 1071.8 L2202.4 1048.4 L2349.7 1014.9M1981.6 1085.2 L2001.6 1068.5 L2018.4 1051.8 L2045.1 1026.7 L2061.9 1030.0M2075.3 1071.8 L2075.3 1088.6 L2061.9 1102.0 L2035.1 1115.3 L2025.1 1120.0M2108.7 728.8 L2202.4 710.4 L2296.2 686.9 L2309.6 690.3 L2319.6 707.0 L2336.3 712.0 L2379.8 727.1M2336.3 715.4 L2329.6 737.1 L2331.3 760.6 L2356.4 789.0 L2336.3 807.4 L2326.3 814.1 L2336.3 854.3 L2339.7 897.8 L2366.4 892.8M2381.5 620.0 L2383.2 660.2 L2420.0 650.1M2383.2 660.2 L2393.2 703.7 L2386.5 717.1M2358.0 566.7 L2365.6 567.5 L2370.6 576.7 L2373.9 593.5 L2378.9 610.2 L2380.6 616.9 L2414.1 606.9 L2464.3 593.5 L2471.0 585.1 L2480.2 576.7M2405.7 560.0 L2409.1 585.1 L2409.9 601.8 L2414.1 606.9M2380.6 616.9 L2380.6 643.7 L2381.4 658.7 L2387.3 685.5 L2393.2 705.6 L2395.7 710.6 L2389.8 720.7M2381.4 658.7 L2412.4 652.9 L2454.2 640.3 L2474.3 633.6 L2481.0 643.7 L2482.7 650.4M2455.9 640.3 L2462.6 660.4 L2466.8 677.1M2230.0 702.2 L2255.1 696.4 L2296.9 685.5 L2305.3 687.2 L2315.3 692.2 L2318.7 702.2 L2325.4 710.6 L2337.1 713.1 L2357.2 719.8 L2378.9 726.5M2337.1 713.1 L2332.1 729.0 L2326.2 741.6 L2330.4 752.4 L2327.1 760.8 L2333.8 769.2 L2347.1 777.6 L2356.3 787.6 L2347.1 797.6 L2338.8 810.0M2325.4 815.1 L2317.0 823.5 L2310.3 826.0M2320.4 840.2 L2325.4 855.3 L2330.4 873.7 L2337.1 898.8 L2347.1 896.3 L2362.2 892.9M2355.5 922.2 L2362.2 917.2M2230.0 867.0 L2243.4 872.0 L2256.8 883.7 L2270.2 883.7M2235.0 1040.0 L2296.9 1029.3 L2352.2 1015.9M415.0 1090.0 L431.8 1108.4 L435.1 1126.8 L438.4 1146.9 L446.8 1156.9 L435.1 1168.7 L423.4 1180.4 L420.0 1197.1 L406.7 1208.8 L401.6 1220.5 L410.0 1233.9 L410.0 1244.0 L401.6 1250.7 L391.6 1250.0M431.8 1108.4 L441.8 1090.0M724.6 1090.0 L709.6 1173.7 L696.2 1257.3 L682.8 1341.0 L672.7 1395.2M800.0 1374.5 L900.4 1384.5 L992.4 1395.2 L1000.8 1307.6 L1010.9 1223.9 L1019.2 1156.9 L1022.6 1120.1M1027.6 1090.0 L1023.6 1118.4 L1171.5 1130.2 L1168.2 1190.4 L1165.5 1245.6 L1181.6 1260.7 L1196.6 1260.7 L1205.0 1264.0 L1206.7 1272.4 L1221.7 1275.8 L1235.1 1277.4 L1245.1 1282.4 L1253.5 1279.1 L1261.9 1280.8 L1266.9 1290.8 L1273.6 1297.5 L1283.6 1289.1 L1295.3 1295.8 L1305.4 1299.2 L1312.1 1304.2 L1318.8 1292.5 L1328.8 1297.5 L1337.2 1295.8 L1352.2 1307.6 L1365.6 1300.9 L1379.0 1299.2 L1389.1 1294.2 L1399.1 1299.2 L1410.8 1292.5 L1422.5 1300.9 L1435.9 1309.2 L1449.3 1312.6 L1457.7 1317.6 L1471.1 1317.6M1027.6 1090.0 L1201.6 1100.0 L1335.5 1105.1 L1439.3 1105.1M1439.3 1090.0 L1439.3 1136.9 L1449.3 1197.1 L1449.3 1257.3 L1447.6 1310.9M1439.3 1136.9 L1536.3 1132.8 L1620.0 1130.2M1471.1 1317.6 L1472.1 1351.1 L1472.7 1414.7 L1482.8 1428.0 L1489.5 1448.1 L1501.2 1471.6 L1496.2 1491.6 L1491.1 1511.7 L1492.1 1531.8 L1484.4 1546.9M1472.1 1351.1 L1553.1 1347.7 L1620.0 1345.0M1620.0 1299.2 L1616.7 1310.9 L1620.0 1324.3M1620.0 1414.7 L1610.0 1438.1 L1603.3 1471.6 L1616.7 1471.6M1600.0 1130.2 L1658.6 1128.5 L1665.3 1140.2 L1651.9 1158.6 L1683.7 1158.6M1700.4 1090.0 L1708.8 1103.4 L1705.4 1118.4 L1690.4 1125.1 L1683.7 1143.6 L1685.3 1160.3 L1675.3 1177.0 L1670.3 1197.1 L1668.6 1208.8 L1661.9 1218.9 L1650.2 1233.9 L1645.2 1254.0 L1631.8 1272.4 L1623.4 1284.1 L1625.1 1300.9 L1618.4 1310.9 L1621.8 1327.6 L1623.4 1346.0 L1625.1 1367.8 L1635.1 1386.2 L1623.4 1411.3 L1610.0 1431.4 L1601.7 1458.2 L1600.0 1471.6M1663.6 1218.9 L1769.0 1210.5 L1894.5 1197.1 L1959.8 1188.7 L2021.7 1180.4M1690.4 1123.5 L1764.0 1118.4 L1764.0 1106.7 L1867.8 1098.4 L1968.2 1090.0M1769.0 1210.5 L1771.4 1324.3 L1769.0 1408.0 L1774.0 1458.2 L1780.7 1496.7M1894.5 1197.1 L1911.3 1257.3 L1931.3 1320.9 L1948.1 1351.1 L1953.1 1361.1 L1946.4 1377.8 L1946.4 1391.2 L1951.4 1408.0 L1953.1 1428.0 L1959.8 1439.8 L1968.2 1456.5M1832.6 1491.6 L1830.9 1474.9 L1822.6 1468.2 L1820.9 1454.8 L1959.8 1439.8M1968.2 1456.5 L2035.1 1450.8 L2115.4 1444.1 L2123.8 1453.1 L2117.1 1454.8 L2122.1 1444.8 L2121.5 1431.4 L2128.8 1426.4 L2148.9 1428.0M1600.0 1471.6 L1703.8 1466.5 L1705.4 1474.9 L1700.4 1488.3 L1710.4 1505.0 L1717.1 1515.1M1600.0 1346.0 L1621.8 1346.0M2021.7 1180.4 L2013.3 1193.8 L2015.0 1202.1 L2038.4 1212.2 L2055.2 1233.9 L2082.0 1254.0 L2095.3 1264.0 L2105.4 1277.4 L2122.1 1287.5 L2132.2 1307.6 L2148.9 1324.3 L2158.9 1339.3 L2169.0 1341.0M2021.7 1180.4 L2056.9 1162.0 L2122.1 1153.6 L2135.5 1160.3 L2140.5 1170.3 L2195.8 1162.0 L2261.0 1203.8M1959.8 1188.7 L1961.5 1173.7 L1971.5 1165.3 L1981.6 1151.9 L2001.6 1143.6 L2021.7 1123.5 L2038.4 1113.4 L2065.2 1100.0 L2071.9 1090.0M2130.0 1062.8 L2196.9 1048.5 L2263.9 1034.3 L2330.8 1020.1 L2352.6 1015.9M2130.0 1155.6 L2138.4 1164.8 L2140.9 1170.7 L2196.9 1161.5 L2262.2 1204.2M1500.5 1480.0 L1493.9 1500.0 L1492.2 1523.3 L1488.9 1539.9 L1480.6 1551.6M2697.0 293.7 L2691.5 304.7 L2687.1 313.6"/>
<path fill="none" stroke="#000" stroke-width="4.3" stroke-dasharray="4.2 6.8" d="M1538.1 504.1 L1545.6 496.6 L1554.6 489.1 L1562.2 481.6 L1569.7 473.3 L1577.2 465.0 L1584.8 456.7 L1593.0 450.7 L1602.1 444.7 L1612.6 440.1 L1622.4 435.6 L1631.4 429.6 L1639.0 425.8 L1645.7 418.3 L1649.5 406.3 L1651.0 397.2 L1660.8 390.4 L1670.6 388.2 L1675.1 379.9 L1679.6 370.9 L1685.6 361.1 L1696.2 359.6 L1707.5 364.1 L1717.3 367.1 L1727.8 369.4 L1738.4 368.6 L1748.1 366.4 L1758.7 367.9 L1765.5 375.4 L1770.0 385.2 L1774.5 395.0 L1780.5 404.8 L1789.6 410.8 L1800.1 413.0 L1810.6 410.8 L1821.2 409.3 L1831.0 410.8 L1827.2 422.1 L1827.2 431.1 L1836.2 437.9 L1845.3 443.9 L1842.3 455.2 L1840.8 465.0 L1849.8 468.0 L1858.1 471.8 L1857.3 480.0 L1851.3 490.6 L1866.4 489.1 L1870.9 496.6 L1866.4 499.6 L1836.2 496.6 L1833.2 489.1 L1831.7 480.0 L1822.7 483.1 L1812.1 488.3 L1801.6 489.1 L1791.1 490.6 L1780.5 495.9 L1773.0 502.6 L1764.0 506.4 L1753.4 506.4 L1744.4 506.4 L1735.3 503.4 L1727.8 495.9 L1720.3 488.3 L1709.7 485.3 L1699.2 484.6 L1693.2 477.0 L1698.4 468.0 L1706.7 459.0 L1714.3 452.2 L1703.0 451.4 L1693.2 456.0 L1684.9 463.5 L1678.1 469.5 L1670.6 476.3 L1663.1 484.6 L1654.8 490.6 L1645.0 495.1 L1634.4 498.1 L1625.4 504.9 L1616.4 510.9 L1610.4 515.4 L1602.1 513.2 L1594.5 509.4 L1595.3 501.9 L1598.3 495.1 L1605.8 486.8 L1590.8 492.1 L1581.0 495.9 L1572.0 499.6 L1562.2 505.6 L1551.6 509.4 L1541.8 510.2 L1538.1 504.1M1864.7 532.4 L1855.6 526.4 L1846.6 524.8 L1840.6 527.1 L1830.0 524.1 L1819.5 522.6 L1812.0 529.4 L1801.4 533.9 L1792.4 534.6 L1783.4 540.7 L1775.8 548.2 L1771.3 549.7 L1763.8 545.2 L1756.3 542.2 L1754.8 552.7 L1747.2 561.7 L1744.2 572.3 L1739.7 581.3 L1735.2 593.4 L1729.2 605.4 L1723.1 617.5 L1720.1 628.0 L1726.1 625.0 L1733.7 611.4 L1741.2 599.4 L1750.2 584.3 L1757.8 575.3 L1762.3 570.8 L1760.8 581.3 L1754.8 593.4 L1748.7 605.4 L1745.0 616.0 L1742.7 629.5 L1742.0 640.0 L1742.7 650.6 L1738.2 661.1 L1736.7 671.7 L1737.4 682.2 L1735.9 692.8 L1732.9 703.3 L1733.7 713.8 L1736.7 722.9 L1732.9 703.0 L1733.7 715.1 L1738.2 725.6 L1742.0 736.1 L1741.2 749.7 L1742.7 763.2 L1746.5 773.8 L1751.7 782.8 L1756.3 791.9 L1760.8 800.9 L1768.3 803.2 L1776.6 801.6 L1786.4 794.9 L1793.9 788.8 L1798.4 781.3 L1802.2 770.8 L1806.7 760.2 L1810.5 749.7 L1811.2 739.2 L1810.5 727.1 L1809.0 716.6 L1805.2 706.8 L1810.5 725.0 L1809.0 717.6 L1804.4 707.1 L1799.9 697.3 L1794.7 687.5 L1790.1 677.7 L1793.9 667.2 L1790.9 656.6 L1790.9 646.8 L1795.4 637.0 L1796.9 626.5 L1796.9 616.0 L1801.4 608.4 L1804.4 597.9 L1812.0 593.4 L1818.0 591.9 L1825.5 599.4 L1828.5 588.8 L1833.1 569.3 L1843.6 564.8 L1842.1 560.2 L1840.6 549.7 L1842.1 540.7 L1851.1 536.1 L1864.7 532.4M1864.7 532.4 L1870.7 522.6 L1875.2 509.0 L1882.8 503.0 L1900.8 503.8 L1924.9 503.0 L1946.0 502.3 L1968.6 501.5 L1983.7 503.0 L1998.7 502.3 L2013.8 503.0 L2021.3 507.5 L2027.3 515.1 L2036.4 522.6 L2049.9 528.6 L2055.9 539.2 L2059.0 547.6 L2074.0 561.0 L2062.3 582.7 L2051.4 582.1 L2040.9 578.3 L2031.8 575.3 L2025.8 581.3 L2021.3 570.8 L2013.8 573.8 L2006.2 566.3 L2003.2 557.2 L1994.2 552.7 L1985.2 552.0 L1991.2 560.2 L2000.2 567.8 L2007.7 575.3 L2009.3 585.8 L2006.2 596.4 L2000.2 605.4 L1997.2 616.0 L1997.2 626.5 L1999.5 637.0 L2001.7 647.6 L2004.0 658.1 L2000.2 668.7 L1992.7 676.2 L1985.2 685.2 L1979.1 683.0 L1973.1 680.7 L1968.6 671.7 L1965.6 661.1 L1961.1 650.6 L1956.5 640.0 L1949.0 632.5 L1938.5 632.5 L1930.9 640.0 L1926.4 647.6 L1920.4 656.6 L1914.4 662.6 L1903.8 658.1 L1902.3 649.1 L1909.9 640.0 L1915.9 631.0 L1918.9 622.0 L1923.4 614.4 L1922.7 603.9 L1921.9 591.9 L1917.4 582.8 L1914.4 573.8 L1917.4 569.3 L1912.9 560.2 L1903.8 556.5 L1891.8 552.7 L1881.2 550.4 L1872.2 544.4 L1861.7 540.7 L1864.7 532.4M1966.9 718.8 L1972.0 717.1 L1982.0 724.7 L1980.3 732.2 L1973.6 733.9 L1966.9 733.0 L1961.9 728.9 L1963.6 723.8 L1966.9 718.8M1950.2 759.0 L1953.6 754.0 L1963.6 753.1 L1973.6 751.4 L1980.3 754.0 L1983.7 748.9 L1990.4 742.2 L2000.4 733.9 L2008.8 728.9 L2015.5 715.5 L2023.8 707.1 L2033.9 702.1 L2045.6 700.4 L2055.6 701.2 L2067.3 701.7 L2070.7 694.6 L2079.1 686.2 L2089.1 682.0 L2099.1 677.8 L2109.2 673.6 L2120.9 672.0 L2130.9 667.8 L2136.0 672.0 L2130.9 682.0 L2124.2 691.2 L2117.6 698.7 L2109.2 707.1 L2100.8 715.5 L2090.8 723.8 L2082.4 729.7 L2070.7 737.2 L2060.7 743.9 L2050.6 750.6 L2042.2 756.5 L2033.9 765.7 L2027.2 772.4 L2017.1 776.6 L2007.1 779.9 L1997.1 784.1 L1987.0 787.4 L1975.3 786.6 L1966.1 789.1 L1955.2 777.4 L1948.5 767.3 L1950.2 759.0M2090.1 648.8 L2092.4 638.3 L2099.2 629.3 L2108.2 621.7 L2117.2 612.7 L2127.8 608.2 L2138.3 603.7 L2148.8 599.2 L2159.4 594.6 L2168.4 590.1 L2176.0 587.1 L2179.0 581.1 L2185.0 576.6 L2192.5 575.1 L2200.0 573.6 L2206.1 569.0 L2212.1 566.0 L2218.1 562.3 L2221.9 560.0 L2232.0 548.0 L2240.0 555.0 L2239.0 566.0 L2233.2 573.6 L2239.2 578.1 L2233.2 585.6 L2239.2 593.1 L2240.7 603.7 L2233.2 606.7 L2225.6 614.2 L2219.6 620.2 L2210.6 625.5 L2198.5 630.0 L2186.5 633.8 L2168.4 633.0 L2156.4 633.0 L2144.3 635.3 L2132.3 641.3 L2118.7 642.1 L2115.7 650.4 L2106.7 654.9 L2094.6 654.9 L2090.1 648.8M1921.9 516.6 L1930.9 513.6 L1943.0 515.1 L1952.0 510.5 L1961.1 514.3 L1970.1 511.3 L1976.1 515.1 L1980.6 524.1 L1976.1 532.4 L1965.6 531.6 L1955.0 527.9 L1944.5 525.6 L1934.0 521.8 L1924.9 521.1 L1921.9 516.6M1884.3 509.0 L1891.8 506.0 L1900.8 509.0 L1896.3 515.1 L1887.3 514.3 L1884.3 509.0M1652.5 424.3 L1658.5 416.8 L1667.6 410.8 L1678.1 406.3 L1681.1 412.3 L1673.6 422.1 L1663.1 429.6 L1656.3 434.1 L1652.5 424.3M1785.8 426.6 L1793.3 422.1 L1799.3 425.8 L1789.6 428.8 L1785.8 426.6"/>
<path fill="none" stroke="#000" stroke-width="4.3" stroke-dasharray="4.2 6.8" stroke-dashoffset="5.5" d="M236.6 189.8 L245.7 198.4 L254.3 206.4 L262.8 213.4 L271.4 219.8 L282.1 223.6 L292.8 221.9 L298.2 215.0 L299.3 202.1 L304.6 191.4 L303.5 181.8M321.3 189.5 L368.2 206.9 L435.1 228.7 L502.0 249.7 L542.2 259.8 L580.7 268.8 L656.0 287.2M656.0 287.2 L736.3 305.6 L820.0 322.4 L800.0 319.0 L816.7 322.4 L927.2 343.5 L1054.4 359.2 L1159.8 365.9 L1325.5 373.6 L1409.1 374.9 L1409.1 374.9 L1409.8 350.8 L1419.2 354.2 L1422.5 377.6 L1427.6 387.6 L1442.6 391.6 L1456.0 396.0 L1467.7 401.7 L1482.8 396.0 L1496.2 396.0 L1509.6 401.7 L1519.6 414.4 L1533.0 411.1 L1546.4 421.1 L1559.8 427.1 L1573.1 421.1 L1583.2 416.1 L1603.3 421.8 L1620.0 422.8M1500.0 395.3 L1520.1 412.0 L1540.2 413.7 L1560.2 427.1 L1580.3 417.0 L1610.4 420.4 L1633.9 427.1 L1647.3 417.0 L1687.4 403.6 L1734.3 427.1 L1784.5 450.5 L1834.7 470.6 L1848.1 495.7 L1854.8 497.3 L1874.9 510.7 L1905.0 524.1 L1928.4 537.5 L1945.1 550.9 L1958.5 584.4 L1968.6 614.5 L1978.6 648.0 L1980.3 684.8 L1975.3 714.9 L1968.6 721.6 L1965.2 731.6 L1955.2 736.7 L1953.5 751.7 L1968.6 755.1 L1982.0 765.1 L2002.0 751.7 L2022.1 731.6 L2048.9 714.9 L2075.7 711.6 L2102.4 694.8 L2122.5 681.4 L2132.6 671.4 L2130.9 661.3 L2120.9 651.3 L2119.2 632.9 L2152.7 617.8 L2189.5 607.8 L2222.9 597.8 L2241.3 587.7 L2239.3 568.4 L2240.9 550.0 L2256.0 518.2 L2269.4 508.1 L2282.8 501.4 L2336.3 484.7 L2416.7 462.9M2414.2 462.9 L2415.9 444.5 L2430.9 442.9 L2437.6 427.8 L2439.3 417.8 L2447.7 397.7 L2444.3 370.9 L2444.3 344.1 L2451.0 317.3 L2459.4 292.2 L2467.8 290.6 L2474.4 298.9 L2484.5 297.3 L2501.2 283.9 L2521.3 290.6 L2529.7 307.3 L2538.0 330.7 L2548.1 354.2 L2551.4 370.9 L2566.5 372.6 L2578.2 394.3 L2586.6 394.3M269.4 1227.9 L334.7 1240.6 L391.6 1250.0 L384.9 1260.0 L435.1 1290.8 L502.0 1331.0 L565.6 1376.2 L672.7 1395.2 L716.2 1402.9 L719.6 1384.5 L724.6 1376.2 L769.8 1381.9 L803.3 1387.2 L810.0 1381.2 L803.3 1374.5 L820.0 1374.5 L800.0 1384.5 L806.7 1374.5 L803.3 1381.2 L813.4 1389.6 L825.1 1408.0 L843.5 1424.7 L860.2 1444.8 L880.3 1464.9 L890.4 1484.9 L895.4 1508.4 L894.8 1516.6 L899.8 1529.9 L909.8 1543.2 L926.5 1558.2 L946.4 1569.2 L966.4 1581.5 L976.4 1578.2 L988.0 1564.9 L996.3 1544.9 L1006.3 1538.2 L1016.3 1535.9 L1026.3 1531.6 L1036.3 1537.2 L1056.2 1540.6 L1071.2 1542.6 L1081.2 1556.5 L1094.5 1569.9 L1107.8 1583.2 L1112.8 1599.8 L1119.5 1616.4 L1127.8 1636.4 L1139.4 1649.7 L1149.4 1668.0 L1164.4 1681.3 L1169.4 1693.0 L1168.7 1709.6 L1172.7 1722.9 L1181.0 1736.2 L1186.0 1756.2 L1192.7 1762.9 L1206.0 1767.9 L1216.0 1776.2 L1232.6 1782.2 L1245.9 1786.2 L1265.9 1789.5 L1282.5 1798.8 L1292.5 1796.2 L1297.5 1789.5"/>
</g>
<rect x="30.4" y="178.4" width="2790.0" height="1762.6999999999998" fill="none" stroke="#000" stroke-width="3.3"/>
<g font-family="DejaVu Sans, Liberation Sans, sans-serif" fill="#000">
<text x="1425.4" y="79.9" font-size="66.67" text-anchor="middle">Hit Rate (Above Normal): NOAA</text>
<text x="1425.4" y="154.4" font-size="66.67" text-anchor="middle">Variable: PRAVG, Season: MJJ, Start: 0317</text>
<rect x="2994.3" y="1596.7" width="74.1" height="135.9" fill="#053061"/>
<rect x="2994.3" y="1462.3" width="74.1" height="135.9" fill="#256baf"/>
<rect x="2994.3" y="1327.9" width="74.1" height="135.9" fill="#559ec9"/>
<rect x="2994.3" y="1193.5" width="74.1" height="135.9" fill="#a7d0e4"/>
<rect x="2994.3" y="1059.1" width="74.1" height="135.9" fill="#e2edf3"/>
<rect x="2994.3" y="924.7" width="74.1" height="135.9" fill="#fae7dc"/>
<rect x="2994.3" y="790.3" width="74.1" height="135.9" fill="#f7b799"/>
<rect x="2994.3" y="655.9" width="74.1" height="135.9" fill="#dd6f59"/>
<rect x="2994.3" y="521.5" width="74.1" height="135.9" fill="#b6202f"/>
<rect x="2994.3" y="387.1" width="74.1" height="135.9" fill="#67001f"/>
<path d="M2994.3 388.1 L3031.3500000000004 320.90000000000003 L3068.4 388.1Z" fill="#67001f"/>
<path d="M2994.3 1732.1 L3031.3500000000004 1799.3 L3068.4 1732.1Z" fill="#053061"/>
<path d="M2994.3 388.1 L3031.3500000000004 320.90000000000003 L3068.4 388.1 L3068.4 1732.1 L3031.3500000000004 1799.3 L2994.3 1732.1Z" fill="none" stroke="#000" stroke-width="3.3" stroke-linejoin="miter"/>
<path d="M3070.0 1732.1h14.6" stroke="#000" stroke-width="3.3"/>
<text x="3098.9" y="1746.6" font-size="41.67">0.0</text>
<path d="M3070.0 1597.7h14.6" stroke="#000" stroke-width="3.3"/>
<text x="3098.9" y="1612.2" font-size="41.67">0.1</text>
<path d="M3070.0 1463.3h14.6" stroke="#000" stroke-width="3.3"/>
<text x="3098.9" y="1477.8" font-size="41.67">0.2</text>
<path d="M3070.0 1328.9h14.6" stroke="#000" stroke-width="3.3"/>
<text x="3098.9" y="1343.4" font-size="41.67">0.3</text>
<path d="M3070.0 1194.5h14.6" stroke="#000" stroke-width="3.3"/>
<text x="3098.9" y="1209.0" font-size="41.67">0.4</text>
<path d="M3070.0 1060.1h14.6" stroke="#000" stroke-width="3.3"/>
<text x="3098.9" y="1074.6" font-size="41.67">0.5</text>
<path d="M3070.0 925.7h14.6" stroke="#000" stroke-width="3.3"/>
<text x="3098.9" y="940.2" font-size="41.67">0.6</text>
<path d="M3070.0 791.3h14.6" stroke="#000" stroke-width="3.3"/>
<text x="3098.9" y="805.8" font-size="41.67">0.7</text>
<path d="M3070.0 656.9h14.6" stroke="#000" stroke-width="3.3"/>
<text x="3098.9" y="671.4" font-size="41.67">0.8</text>
<path d="M3070.0 522.5h14.6" stroke="#000" stroke-width="3.3"/>
<text x="3098.9" y="537.0" font-size="41.67">0.9</text>
<path d="M3070.0 388.1h14.6" stroke="#000" stroke-width="3.3"/>
<text x="3098.9" y="402.6" font-size="41.67">1.0</text>
<text transform="translate(3210.5 1062.5) rotate(-90)" font-size="41.67" text-anchor="middle">Hit Rate</text>
</g></svg></body></html>
